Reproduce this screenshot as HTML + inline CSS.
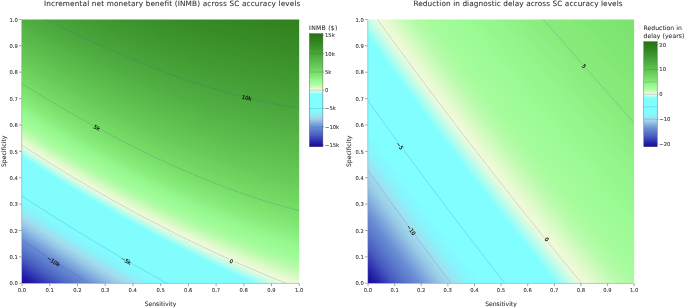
<!DOCTYPE html>
<html lang="en"><head><meta charset="utf-8"><title>INMB and diagnostic delay contour plots</title>
<style>html,body{margin:0;padding:0;background:#fff}body{width:685px;height:308px;overflow:hidden}svg{display:block}text{text-rendering:geometricPrecision;stroke:#333;stroke-width:0.08px}text.cl{stroke:#0a0a0a;stroke-width:0.16px}</style></head>
<body>
<svg width="685" height="308" viewBox="0 0 685 308" font-family="DejaVu Sans,Liberation Sans,sans-serif" fill="#333">
<g><rect x="18.6" y="16.3" width="284" height="270.1" fill="#16089b"/>
<path d="M25,284.1 28.4,286.4 302.5,286.4 302.5,16.3 18.6,16.3 18.6,279.8 23.3,283Z" fill="#170a9c"/>
<path d="M26,284.1 29.4,286.4 302.5,286.4 302.5,16.3 18.6,16.3 18.6,279.1 25.7,283.9Z" fill="#190c9d"/>
<path d="M27.1,284.1 30.4,286.4 302.5,286.4 302.5,16.3 18.6,16.3 18.6,278.4 25.7,283.2Z" fill="#1a0e9e"/>
<path d="M28.1,284.1 31.4,286.4 302.5,286.4 302.5,16.3 18.6,16.3 18.6,277.7 28,284.1Z" fill="#1b11a0"/>
<path d="M29.1,284.1 32.5,286.4 302.5,286.4 302.5,16.3 18.6,16.3 18.6,277 28,283.4Z" fill="#1d13a1"/>
<path d="M30.1,284.1 33.5,286.4 302.5,286.4 302.5,16.3 18.6,16.3 18.6,276.3 28,282.7Z" fill="#1e15a2"/>
<path d="M31.2,284.1 34.5,286.4 302.5,286.4 302.5,16.3 18.6,16.3 18.6,275.7 30.4,283.6Z" fill="#1f17a3"/>
<path d="M32.2,284.1 35.6,286.4 302.5,286.4 302.5,16.3 18.6,16.3 18.6,275 30.4,282.9Z" fill="#2119a4"/>
<path d="M33.2,284.1 36.6,286.4 302.5,286.4 302.5,16.3 18.6,16.3 18.6,274.3 32.8,283.8Z" fill="#221ba6"/>
<path d="M34.3,284.1 37.7,286.4 302.5,286.4 302.5,16.3 18.6,16.3 18.6,273.6 32.8,283.1Z" fill="#231ea7"/>
<path d="M35.3,284.1 38.7,286.4 302.5,286.4 302.5,16.3 18.6,16.3 18.6,272.9 35.1,284Z" fill="#2520a8"/>
<path d="M36.4,284.1 39.8,286.4 302.5,286.4 302.5,16.3 18.6,16.3 18.6,272.2 35.1,283.3Z" fill="#2622a9"/>
<path d="M37.4,284.1 40.8,286.4 302.5,286.4 302.5,16.3 18.6,16.3 18.6,271.5 35.1,282.6Z" fill="#2724aa"/>
<path d="M38.5,284.1 41.9,286.4 302.5,286.4 302.5,16.3 18.6,16.3 18.6,270.8 37.5,283.5Z" fill="#2926ab"/>
<path d="M39.5,284.1 42.9,286.4 302.5,286.4 302.5,16.3 18.6,16.3 18.6,270.1 37.5,282.8Z" fill="#2a28ad"/>
<path d="M40.6,284.1 44,286.4 302.5,286.4 302.5,16.3 18.6,16.3 18.6,269.4 39.9,283.6Z" fill="#2c2bae"/>
<path d="M41.6,284.1 45,286.4 302.5,286.4 302.5,16.3 18.6,16.3 18.6,268.7 39.9,282.9Z" fill="#2d2daf"/>
<path d="M42.4,284.1 45.8,286.4 302.5,286.4 302.5,16.3 18.6,16.3 18.6,268.2 42.2,284Z" fill="#2e2fb0"/>
<path d="M43.2,284.1 46.6,286.4 302.5,286.4 302.5,16.3 18.6,16.3 18.6,267.7 42.2,283.5Z" fill="#2f31b0"/>
<path d="M44,284.1 47.5,286.4 302.5,286.4 302.5,16.3 18.6,16.3 18.6,267.2 42.2,282.9Z" fill="#3033b1"/>
<path d="M44.8,284.1 48.3,286.4 302.5,286.4 302.5,16.3 18.6,16.3 18.6,266.6 44.6,284Z" fill="#3235b2"/>
<path d="M45.6,284.1 49.1,286.4 302.5,286.4 302.5,16.3 18.6,16.3 18.6,266.1 44.6,283.4Z" fill="#3337b3"/>
<path d="M46.4,284.1 49.9,286.4 302.5,286.4 302.5,16.3 18.6,16.3 18.6,265.6 44.6,282.9Z" fill="#3439b4"/>
<path d="M47.3,284.1 50.7,286.4 302.5,286.4 302.5,16.3 18.6,16.3 18.6,265.1 32.8,274.6 47,283.9Z" fill="#353bb4"/>
<path d="M48.1,284.1 51.5,286.4 302.5,286.4 302.5,16.3 18.6,16.3 18.6,264.5 32.8,274 47,283.4Z" fill="#363db5"/>
<path d="M48.9,284.1 52.3,286.4 302.5,286.4 302.5,16.3 18.6,16.3 18.6,264 32.8,273.5 47,282.9Z" fill="#383fb6"/>
<path d="M49.7,284.1 53.1,286.4 302.5,286.4 302.5,16.3 18.6,16.3 18.6,263.5 32.8,273 49.3,283.9Z" fill="#3941b7"/>
<path d="M50.5,284.1 54,286.4 302.5,286.4 302.5,16.3 18.6,16.3 18.6,262.9 33.4,272.9 49.3,283.3Z" fill="#3a44b8"/>
<path d="M51.3,284.1 54.8,286.4 302.5,286.4 302.5,16.3 18.6,16.3 18.6,262.4 34.2,272.9 49.3,282.8Z" fill="#3b46b8"/>
<path d="M52.1,284.1 55.6,286.4 302.5,286.4 302.5,16.3 18.6,16.3 18.6,261.9 35.1,272.9 51.7,283.8Z" fill="#3c48b9"/>
<path d="M53,284.1 56.4,286.4 302.5,286.4 302.5,16.3 18.6,16.3 18.6,261.4 35.1,272.4 51.7,283.3Z" fill="#3e4aba"/>
<path d="M53.8,284.1 57.3,286.4 302.5,286.4 302.5,16.3 18.6,16.3 18.6,260.8 35.1,271.9 51.7,282.7Z" fill="#3f4cbb"/>
<path d="M54.6,284.1 58.1,286.4 302.5,286.4 302.5,16.3 18.6,16.3 18.6,260.3 37.5,272.9 54.1,283.8Z" fill="#404ebc"/>
<path d="M55.4,284.1 58.9,286.4 302.5,286.4 302.5,16.3 18.6,16.3 18.6,259.8 35.1,270.8 54.1,283.2Z" fill="#4150bc"/>
<path d="M56.3,284.1 59.7,286.4 302.5,286.4 302.5,16.3 18.6,16.3 18.6,259.2 35.7,270.6 54.1,282.7Z" fill="#4252bd"/>
<path d="M57.1,284.1 60.6,286.4 302.5,286.4 302.5,16.3 18.6,16.3 18.6,258.7 37.5,271.3 56.4,283.7Z" fill="#4354be"/>
<path d="M57.9,284.1 61.4,286.4 302.5,286.4 302.5,16.3 18.6,16.3 18.6,258.2 37.5,270.7 56.4,283.1Z" fill="#4556bf"/>
<path d="M58.8,284.1 62.3,286.4 302.5,286.4 302.5,16.3 18.6,16.3 18.6,257.6 37.5,270.2 56.4,282.6Z" fill="#4658c0"/>
<path d="M59.6,284.1 63.1,286.4 302.5,286.4 302.5,16.3 18.6,16.3 18.6,257.1 38.9,270.6 58.8,283.6Z" fill="#475ac0"/>
<path d="M60.6,284.1 64,286.4 302.5,286.4 302.5,16.3 18.6,16.3 18.6,256.5 39.8,270.6 58.8,283Z" fill="#485cc1"/>
<path d="M61.7,284.1 65.2,286.4 302.5,286.4 302.5,16.3 18.6,16.3 18.6,255.8 37.5,268.4 61.2,283.8Z" fill="#4a5fc2"/>
<path d="M62.8,284.1 66.3,286.4 302.5,286.4 302.5,16.3 18.6,16.3 18.6,255.1 39.9,269.2 61.2,283.1Z" fill="#4b61c3"/>
<path d="M63.9,284.1 67.4,286.4 302.5,286.4 302.5,16.3 18.6,16.3 18.6,254.3 39.9,268.5 63.5,283.9Z" fill="#4c63c4"/>
<path d="M65.1,284.1 68.6,286.4 302.5,286.4 302.5,16.3 18.6,16.3 18.6,253.6 39.9,267.7 63.5,283.1Z" fill="#4e65c4"/>
<path d="M66.2,284.1 69.7,286.4 302.5,286.4 302.5,16.3 18.6,16.3 18.6,252.9 42.2,268.6 65.9,283.9Z" fill="#4f67c5"/>
<path d="M67.4,284.1 70.9,286.4 302.5,286.4 302.5,16.3 18.6,16.3 18.6,252.2 42.2,267.8 65.9,283.2Z" fill="#5069c6"/>
<path d="M68.5,284.1 72,286.4 302.5,286.4 302.5,16.3 18.6,16.3 18.6,251.4 30.4,259.3 44.2,268.4 68.3,284Z" fill="#526bc7"/>
<path d="M69.7,284.1 73.2,286.4 302.5,286.4 302.5,16.3 18.6,16.3 18.6,250.7 42.2,266.4 68.3,283.2Z" fill="#536dc8"/>
<path d="M70.8,284.1 74.3,286.4 302.5,286.4 302.5,16.3 18.6,16.3 18.6,250 42.9,266.1 56.4,274.9 70.6,284Z" fill="#546fc8"/>
<path d="M72,284.1 75.5,286.4 302.5,286.4 302.5,16.3 18.6,16.3 18.6,249.3 30.4,257.1 44.6,266.5 70.6,283.3Z" fill="#5671c9"/>
<path d="M73.1,284.1 76.7,286.4 302.5,286.4 302.5,16.3 18.6,16.3 18.6,248.5 31.5,257.1 44.6,265.7 58.8,274.9 73,284Z" fill="#5773ca"/>
<path d="M74.3,284.1 77.8,286.4 302.5,286.4 302.5,16.3 18.6,16.3 18.6,247.8 32.6,257.1 44.6,265 58.8,274.2 73,283.3Z" fill="#5875cb"/>
<path d="M75.5,284.1 79,286.4 302.5,286.4 302.5,16.3 18.6,16.3 18.6,247.1 32.8,256.5 47,265.8 61.2,275 75.4,284Z" fill="#5977cc"/>
<path d="M76.8,284.1 80.3,286.4 302.5,286.4 302.5,16.3 18.6,16.3 18.6,246.3 31.5,254.9 45.2,263.9 59.1,272.9 75.4,283.2Z" fill="#5b79cc"/>
<path d="M78.1,284.1 81.7,286.4 302.5,286.4 302.5,16.3 18.6,16.3 18.6,245.4 32.8,254.8 47,264.1 61.2,273.3 77.7,283.9Z" fill="#5c7bcd"/>
<path d="M79.5,284.1 83.1,286.4 302.5,286.4 302.5,16.3 18.6,16.3 18.6,244.5 32.8,254 47,263.3 61.8,272.9 77.7,283Z" fill="#5e7ece"/>
<path d="M80.9,284.1 84.5,286.4 302.5,286.4 302.5,16.3 18.6,16.3 18.6,243.7 35.1,254.7 49.3,263.9 63.5,273.1 80.1,283.6Z" fill="#6080cf"/>
<path d="M82.3,284.1 85.9,286.4 302.5,286.4 302.5,16.3 18.6,16.3 18.6,242.8 32.8,252.2 47.1,261.6 63.5,272.2 80.1,282.7Z" fill="#6182d0"/>
<path d="M83.7,284.1 87.3,286.4 302.5,286.4 302.5,16.3 18.6,16.3 18.6,242 34.6,252.6 49.3,262.2 65.9,272.8 82.5,283.3Z" fill="#6384d0"/>
<path d="M85.1,284.1 88.7,286.4 302.5,286.4 302.5,16.3 18.6,16.3 18.6,241.1 32.8,250.5 49.8,261.6 67.3,272.9 84.8,283.9Z" fill="#6486d1"/>
<path d="M86.5,284.1 90.1,286.4 302.5,286.4 302.5,16.3 18.6,16.3 18.6,240.2 35.1,251.2 51.1,261.6 68.3,272.6 84.8,283Z" fill="#6688d2"/>
<path d="M88,284.1 91.6,286.4 302.5,286.4 302.5,16.3 18.6,16.3 18.6,239.3 35.1,250.3 51.7,261.1 70.1,272.9 87.2,283.6Z" fill="#678ad3"/>
<path d="M89.4,284.1 93,286.4 302.5,286.4 302.5,16.3 18.6,16.3 18.6,238.5 35.1,249.4 51.7,260.2 68.3,270.8 87.2,282.7Z" fill="#698dd4"/>
<path d="M90.6,284.1 94.2,286.4 302.5,286.4 302.5,16.3 18.6,16.3 18.6,237.7 35.1,248.7 51.7,259.5 70.6,271.6 89.6,283.5Z" fill="#6b8fd4"/>
<path d="M91.5,284.1 95.2,286.4 302.5,286.4 302.5,16.3 18.6,16.3 18.6,237.2 35.1,248.1 52.4,259.4 70.6,271 89.6,282.9Z" fill="#6c91d5"/>
<path d="M92.5,284.1 96.1,286.4 302.5,286.4 302.5,16.3 18.6,16.3 18.6,236.6 36,248.1 54.1,259.8 70.9,270.6 91.9,283.8Z" fill="#6e93d6"/>
<path d="M93.4,284.1 97,286.4 302.5,286.4 302.5,16.3 18.6,16.3 18.6,236 36.8,248.1 54.1,259.3 73,271.3 91.9,283.2Z" fill="#6f95d6"/>
<path d="M94.3,284.1 98,286.4 302.5,286.4 302.5,16.3 18.6,16.3 18.6,235.5 37.5,248 55.1,259.4 73,270.8 94.3,284.1Z" fill="#7197d7"/>
<path d="M95.3,284.1 98.9,286.4 302.5,286.4 302.5,16.3 18.6,16.3 18.6,234.9 35.1,245.9 56,259.4 73.7,270.6 94.3,283.5Z" fill="#7399d8"/>
<path d="M96.2,284.1 99.8,286.4 302.5,286.4 302.5,16.3 18.6,16.3 18.6,234.3 37.5,246.8 56.4,259.1 75.4,271.1 94.3,282.9Z" fill="#749bd9"/>
<path d="M97.1,284.1 100.8,286.4 302.5,286.4 302.5,16.3 18.6,16.3 18.6,233.8 37.5,246.3 56.4,258.5 75.4,270.5 96.7,283.8Z" fill="#769dd9"/>
<path d="M98.1,284.1 101.7,286.4 302.5,286.4 302.5,16.3 18.6,16.3 18.6,233.2 37.5,245.7 56.4,257.9 76.4,270.6 96.7,283.2Z" fill="#789fda"/>
<path d="M99,284.1 102.7,286.4 302.5,286.4 302.5,16.3 18.6,16.3 18.6,232.6 37.5,245.1 56.4,257.4 77.7,270.9 99,284.1Z" fill="#79a1db"/>
<path d="M100,284.1 103.7,286.4 302.5,286.4 302.5,16.3 18.6,16.3 18.6,232.1 37.5,244.5 56.9,257.1 77.7,270.3 99,283.5Z" fill="#7ba3dc"/>
<path d="M101,284.1 104.6,286.4 302.5,286.4 302.5,16.3 18.6,16.3 18.6,231.5 37.5,244 57.8,257.1 77.7,269.7 99,282.9Z" fill="#7ca5dc"/>
<path d="M101.9,284.1 105.6,286.4 302.5,286.4 302.5,16.3 18.6,16.3 18.6,230.9 37.8,243.6 58.8,257.1 80.1,270.6 101.4,283.8Z" fill="#7ea7dd"/>
<path d="M102.9,284.1 106.5,286.4 302.5,286.4 302.5,16.3 18.6,16.3 18.6,230.3 38.7,243.6 58.8,256.6 80.1,270 101.4,283.2Z" fill="#80a9de"/>
<path d="M103.8,284.1 107.5,286.4 302.5,286.4 302.5,16.3 18.6,16.3 18.6,229.8 39.9,243.8 60.6,257.1 82.5,270.9 103.8,284.1Z" fill="#81acde"/>
<path d="M104.8,284.1 108.5,286.4 302.5,286.4 302.5,16.3 18.6,16.3 18.6,229.2 39.9,243.2 61.2,256.9 82.5,270.3 103.8,283.5Z" fill="#83aedf"/>
<path d="M105.8,284.1 109.5,286.4 302.5,286.4 302.5,16.3 18.6,16.3 18.6,228.6 37.9,241.4 58.8,254.8 80.1,268.3 103.8,282.9Z" fill="#85b0e0"/>
<path d="M106.7,284.1 110.4,286.4 302.5,286.4 302.5,16.3 18.6,16.3 18.6,228 39.9,242 61.2,255.7 84.8,270.6 106.1,283.7Z" fill="#87b2e0"/>
<path d="M107.7,284.1 111.4,286.4 302.5,286.4 302.5,16.3 18.6,16.3 18.6,227.5 39.9,241.5 61.2,255.2 82.5,268.6 106.1,283.1Z" fill="#88b4e1"/>
<path d="M108.7,284.1 112.4,286.4 302.5,286.4 302.5,16.3 18.6,16.3 18.6,226.9 39.9,240.9 61.2,254.6 83.1,268.4 108.5,284Z" fill="#8ab7e1"/>
<path d="M109.7,284.1 113.4,286.4 302.5,286.4 302.5,16.3 18.6,16.3 18.6,226.3 39.9,240.3 62.5,254.9 84.8,268.8 108.5,283.4Z" fill="#8cb9e2"/>
<path d="M110.7,284.1 114.4,286.4 302.5,286.4 302.5,16.3 18.6,16.3 18.6,225.7 30.4,233.5 42.2,241.3 63.5,254.9 84.8,268.3 108.5,282.8Z" fill="#8ebbe3"/>
<path d="M111.7,284.1 115.4,286.4 302.5,286.4 302.5,16.3 18.6,16.3 18.6,225.1 39.9,239.1 63.5,254.3 87.2,269.1 110.9,283.6Z" fill="#8fbde3"/>
<path d="M112.7,284.1 116.4,286.4 302.5,286.4 302.5,16.3 18.6,16.3 18.6,224.5 39.9,238.6 61.8,252.6 73,259.7 86.9,268.4 110.9,283Z" fill="#91bfe4"/>
<path d="M113.7,284.1 117.4,286.4 302.5,286.4 302.5,16.3 18.6,16.3 18.6,224 30.4,231.8 41.6,239.1 63.5,253.1 87.2,267.9 113.2,283.9Z" fill="#93c2e4"/>
<path d="M114.7,284.1 118.4,286.4 302.5,286.4 302.5,16.3 18.6,16.3 18.6,223.4 30.4,231.2 42.2,238.9 63.5,252.5 77.7,261.5 88.8,268.4 113.2,283.2Z" fill="#95c4e5"/>
<path d="M115.7,284.1 119.4,286.4 302.5,286.4 302.5,16.3 18.6,16.3 18.6,222.8 40,236.9 53.9,245.9 64.6,252.6 75.4,259.4 89.6,268.2 115.6,284.1Z" fill="#96c6e5"/>
<path d="M116.7,284.1 120.4,286.4 302.5,286.4 302.5,16.3 18.6,16.3 18.6,222.2 30.4,230 42.2,237.7 54.1,245.3 65.9,252.9 89.6,267.6 115.6,283.5Z" fill="#98c8e6"/>
<path d="M117.9,284.1 121.7,286.4 302.5,286.4 302.5,16.3 18.6,16.3 18.6,221.5 30.4,229.3 42.2,237 54.1,244.6 65.9,252.1 77.7,259.6 91.9,268.3 115.6,282.7Z" fill="#99cae7"/>
<path d="M119.1,284.1 122.9,286.4 302.5,286.4 302.5,16.3 18.6,16.3 18.6,220.8 32.7,230.1 43.1,236.9 54.1,243.9 67.8,252.6 91.9,267.6 118,283.4Z" fill="#9acce8"/>
<path d="M120.4,284.1 124.2,286.4 302.5,286.4 302.5,16.3 18.6,16.3 18.6,220.1 30.4,227.9 44.2,236.9 56.4,244.7 68.3,252.2 80.1,259.6 94.3,268.3 120.3,284.1Z" fill="#9bcee8"/>
<path d="M121.6,284.1 125.4,286.4 302.5,286.4 302.5,16.3 18.6,16.3 18.6,219.3 30.4,227.1 42.2,234.8 54.1,242.4 66.5,250.4 77.7,257.4 91.9,266.1 106.1,274.8 120.3,283.3Z" fill="#9cd1e9"/>
<path d="M122.9,284.1 126.7,286.4 302.5,286.4 302.5,16.3 18.6,16.3 18.6,218.6 30.4,226.4 43,234.6 56.4,243.2 68.3,250.7 82.5,259.6 96.7,268.3 122.7,284Z" fill="#9dd3ea"/>
<path d="M124.2,284.1 128,286.4 302.5,286.4 302.5,16.3 18.6,16.3 18.6,217.9 30.4,225.7 44.1,234.6 56.4,242.5 68.3,250 80.1,257.4 94.3,266.1 108.5,274.7 122.7,283.2Z" fill="#9ed5eb"/>
<path d="M125.4,284.1 129.2,286.4 302.5,286.4 302.5,16.3 18.6,16.3 18.6,217.2 31.4,225.6 44.6,234.2 56.4,241.8 70,250.4 84.5,259.4 96.7,266.8 110.9,275.4 125.1,283.9Z" fill="#9fd7eb"/>
<path d="M126.7,284.1 130.5,286.4 302.5,286.4 302.5,16.3 18.6,16.3 18.6,216.4 32.5,225.6 44.6,233.5 56.9,241.4 70.6,250 82.5,257.3 96.7,266.1 110.9,274.6 125.1,283.1Z" fill="#a0d9ec"/>
<path d="M128,284.1 131.8,286.4 302.5,286.4 302.5,16.3 18.6,16.3 18.6,215.7 30.4,223.5 44.6,232.7 58.1,241.4 70.6,249.2 84.8,258.1 99,266.7 113.2,275.3 127.4,283.8Z" fill="#a1dbed"/>
<path d="M129.3,284.1 133.1,286.4 302.5,286.4 302.5,16.3 18.6,16.3 18.6,215 31.3,223.3 44.6,232 58.8,241.1 70.6,248.5 84.8,257.3 99,266 113.2,274.6 127.4,283Z" fill="#a2ddee"/>
<path d="M130.7,284.1 134.5,286.4 302.5,286.4 302.5,16.3 18.6,16.3 18.6,214.2 32.5,223.3 44.6,231.2 57,239.1 71.3,248.1 85.8,257.1 100.6,266.1 115.6,275.2 129.8,283.6Z" fill="#a1dfef"/>
<path d="M132.1,284.1 136,286.4 302.5,286.4 302.5,16.3 18.6,16.3 18.6,213.4 30.4,221.2 44.6,230.4 58.8,239.4 72.6,248.1 87.2,257.1 101.4,265.8 115.6,274.3 129.8,282.7Z" fill="#9fe1f0"/>
<path d="M133.5,284.1 137.4,286.4 302.5,286.4 302.5,16.3 18.6,16.3 18.6,212.6 31.5,221.1 45.4,230.1 58.8,238.6 73,247.6 88.5,257.1 103.3,266.1 118,274.9 132.2,283.3Z" fill="#9ce3f1"/>
<path d="M135,284.1 138.8,286.4 302.5,286.4 302.5,16.3 18.6,16.3 18.6,211.8 32.8,221.1 47,230.3 61.2,239.3 75.2,248.1 89.6,257 103.8,265.6 119.7,275.1 134.5,283.8Z" fill="#9ae5f2"/>
<path d="M136.4,284.1 140.3,286.4 302.5,286.4 302.5,16.3 18.6,16.3 18.6,211 30.6,218.8 44.6,228 58.8,237 73,245.9 87.2,254.7 102.3,263.9 118,273.2 134.5,283Z" fill="#98e6f3"/>
<path d="M137.9,284.1 141.7,286.4 302.5,286.4 302.5,16.3 18.6,16.3 18.6,210.1 32.8,219.5 47,228.7 61.2,237.7 75.4,246.6 89.6,255.3 103.8,263.9 120.3,273.8 136.9,283.5Z" fill="#96e8f4"/>
<path d="M139.3,284.1 143.2,286.4 302.5,286.4 302.5,16.3 18.6,16.3 18.6,209.3 32.8,218.7 47,227.9 61.2,236.9 75.5,245.9 90.2,254.9 106.1,264.5 120.3,273 139.3,284.1Z" fill="#94eaf5"/>
<path d="M140.8,284.1 144.7,286.4 302.5,286.4 302.5,16.3 18.6,16.3 18.6,208.5 32.8,217.9 47,227 62.4,236.9 76.9,245.9 91.9,255.1 106.1,263.7 122.7,273.5 139.3,283.2Z" fill="#92ecf7"/>
<path d="M142.3,284.1 146.2,286.4 302.5,286.4 302.5,16.3 18.6,16.3 18.6,207.7 35.1,218.6 49.3,227.7 63.5,236.7 77.7,245.6 92.9,254.9 108.5,264.3 123,272.9 141.6,283.7Z" fill="#8feef8"/>
<path d="M143.8,284.1 147.7,286.4 302.5,286.4 302.5,16.3 18.6,16.3 18.6,206.9 32.8,216.2 47.3,225.6 61.5,234.6 77.7,244.7 94.3,254.9 108.5,263.4 125.1,273.2 141.6,282.9Z" fill="#8df0f9"/>
<path d="M145.3,284.1 149.2,286.4 302.5,286.4 302.5,16.3 18.6,16.3 18.6,206.1 34.6,216.6 48.6,225.6 63.5,235.1 77.7,243.9 91.9,252.6 110.9,264 127.4,273.8 144,283.4Z" fill="#8bf2fa"/>
<path d="M146.8,284.1 150.7,286.4 302.5,286.4 302.5,16.3 18.6,16.3 18.6,205.3 32.8,214.6 49.3,225.3 64.1,234.6 80.1,244.5 96.7,254.6 112.1,263.9 127.4,272.9 146.4,283.9Z" fill="#89f3fb"/>
<path d="M148.4,284.1 152.3,286.4 302.5,286.4 302.5,16.3 18.6,16.3 18.6,204.4 33.8,214.3 49.3,224.4 65.5,234.6 80.1,243.6 96.7,253.7 113.2,263.6 129.8,273.4 146.4,282.9Z" fill="#87f5fc"/>
<path d="M152.1,284.1 156,286.4 302.5,286.4 302.5,16.3 18.6,16.3 18.6,202.4 33.4,212.1 50.9,223.3 65.9,232.8 82.5,243.1 99,253.1 115.6,263 132.2,272.7 151.1,283.5Z" fill="#85f7fd"/>
<path d="M155.8,284.1 159.8,286.4 302.5,286.4 302.5,16.3 18.6,16.3 18.6,200.4 33,209.8 50.5,221.1 68.3,232.3 83,241.4 101.4,252.5 118,262.3 136.1,272.9 153.5,282.8Z" fill="#84f9fd"/>
<path d="M159.6,284.1 163.6,286.4 302.5,286.4 302.5,16.3 18.6,16.3 18.6,198.3 36.1,209.8 53.7,221.1 68.3,230.2 86.4,241.4 101.4,250.4 120.3,261.6 139.3,272.6 158.2,283.3Z" fill="#83fbfe"/>
<path d="M163.5,284.1 167.5,286.4 302.5,286.4 302.5,16.3 18.6,16.3 18.6,196.3 35.8,207.6 54.1,219.3 71.4,230.1 89.6,241.2 108.5,252.6 125.1,262.3 144,273.1 162.9,283.8Z" fill="#81fdfe"/>
<path d="M255.8,284.1 260.9,286.4 302.5,286.4 302.5,16.3 18.6,16.3 18.6,154.3 34.8,164.8 49,173.8 63.5,182.8 77.7,191.5 91.9,199.9 106.1,208.1 120.3,216.2 134.5,224 148.7,231.7 162.9,239.2 179.5,247.8 193.7,254.9 207.9,261.9 224.4,269.8 241,277.4 255.2,283.8Z" fill="#83fffe"/>
<path d="M256.4,284.1 261.5,286.4 302.5,286.4 302.5,16.3 18.6,16.3 18.6,154.1 32.8,163.3 47,172.3 61.2,181.2 75.4,189.8 90.1,198.6 105.6,207.6 120.3,215.9 134.5,223.8 148.7,231.5 162.9,239 177.1,246.3 193.7,254.6 207.9,261.6 224.4,269.5 241,277.2 255.2,283.6Z" fill="#86fffd"/>
<path d="M257.1,284.1 262.2,286.4 302.5,286.4 302.5,16.3 18.6,16.3 18.6,153.9 32.8,163.1 47,172.1 61.2,180.9 75.4,189.6 90.6,198.6 106.1,207.6 120.3,215.7 134.5,223.5 150.8,232.3 163.6,239.1 177.1,246.1 193.7,254.4 207.9,261.3 224.4,269.2 241,276.9 255.2,283.3Z" fill="#88fffc"/>
<path d="M257.7,284.1 262.8,286.4 302.5,286.4 302.5,16.3 18.6,16.3 18.6,153.6 32.8,162.8 47,171.8 61.2,180.7 75.8,189.6 91,198.6 106.1,207.4 120.3,215.4 134.6,223.3 151.1,232.2 165.3,239.7 181.8,248.2 196,255.3 212.6,263.3 226.8,270.1 243.4,277.7 257.6,284Z" fill="#8bfffc"/>
<path d="M258.4,284.1 263.5,286.4 302.5,286.4 302.5,16.3 18.6,16.3 18.6,153.4 32.8,162.6 47,171.6 61.2,180.4 76.2,189.6 91.4,198.6 106.1,207.1 120.3,215.2 135.1,223.3 151.1,232 165.3,239.4 181.8,247.9 196,255 210.2,261.9 226.8,269.8 243.4,277.4 257.6,283.8Z" fill="#8dfefb"/>
<path d="M259,284.1 264.2,286.4 302.5,286.4 302.5,16.3 18.6,16.3 18.6,153.1 32.8,162.3 47.3,171.6 61.8,180.6 77.7,190.2 91.9,198.7 107.4,207.6 122.7,216.2 136.9,224.1 151.1,231.7 165.3,239.2 181.8,247.7 196,254.8 210.2,261.7 226.8,269.5 243.4,277.1 257.6,283.5Z" fill="#8ffefa"/>
<path d="M259.7,284.1 264.8,286.4 302.5,286.4 302.5,16.3 18.6,16.3 18.6,152.9 32.8,162.1 47.7,171.6 62.2,180.6 77.7,190 92.2,198.6 107.8,207.6 122.7,216 136.9,223.8 151.1,231.5 165.3,238.9 179.5,246.2 196,254.5 210.2,261.4 226.8,269.2 243.4,276.9 257.6,283.2Z" fill="#92fef9"/>
<path d="M260.3,284.1 265.5,286.4 302.5,286.4 302.5,16.3 18.6,16.3 18.6,152.7 33.9,162.6 48.1,171.6 62.6,180.6 77.7,189.7 92.7,198.6 108.2,207.6 122.7,215.7 136.9,223.6 153.2,232.3 167.6,239.9 183.7,248.1 198.4,255.4 215,263.4 229.2,270.1 245.7,277.6 259.9,283.9Z" fill="#94fef8"/>
<path d="M261,284.1 266.2,286.4 302.5,286.4 302.5,16.3 18.6,16.3 18.6,152.4 34.3,162.6 48.5,171.6 63.5,180.9 77.7,189.5 93.1,198.6 108.5,207.5 122.7,215.5 136.9,223.3 153.5,232.2 167.6,239.6 184.2,248.1 198.4,255.1 212.6,262 229.2,269.8 245.7,277.4 259.9,283.7Z" fill="#97fef8"/>
<path d="M261.6,284.1 266.8,286.4 302.5,286.4 302.5,16.3 18.6,16.3 18.6,152.2 34.7,162.6 48.9,171.6 63.5,180.6 77.7,189.3 93.5,198.6 108.5,207.2 122.7,215.2 136.9,223.1 153.5,232 167.6,239.4 184.2,247.8 198.4,254.9 212.6,261.7 229.2,269.5 245.7,277.1 259.9,283.4Z" fill="#99fef7"/>
<path d="M262.3,284.1 267.5,286.4 302.5,286.4 302.5,16.3 18.6,16.3 18.6,151.9 35,162.6 49.3,171.6 63.5,180.4 77.7,189 93.9,198.6 108.5,207 122.7,215 137.9,223.3 153.5,231.7 167.6,239.1 181.8,246.4 198.4,254.6 212.6,261.5 229.2,269.2 245.7,276.8 259.9,283.1Z" fill="#9bfef6"/>
<path d="M263,284.1 268.2,286.4 302.5,286.4 302.5,16.3 18.6,16.3 18.6,151.7 35.1,162.4 49.3,171.4 64.2,180.6 79.1,189.6 94.3,198.6 110,207.6 125.1,216.1 139.3,223.8 155.2,232.3 170,240.1 185.8,248.1 200.8,255.5 217.3,263.4 231.5,270.1 248.1,277.6 262.3,283.8Z" fill="#9efef5"/>
<path d="M263.6,284.1 268.9,286.4 302.5,286.4 302.5,16.3 18.6,16.3 18.6,151.4 32.8,160.6 49.3,171.1 64.6,180.6 79.5,189.6 94.3,198.3 110.4,207.6 125.1,215.8 139.3,223.6 155.6,232.3 170,239.8 186.6,248.2 200.8,255.2 215,262 231.5,269.8 248.1,277.3 262.3,283.5Z" fill="#a0fef5"/>
<path d="M264.3,284.1 269.5,286.4 302.5,286.4 302.5,16.3 18.6,16.3 18.6,151.2 32.8,160.4 49.3,170.9 65,180.6 79.9,189.6 95.2,198.6 110.9,207.6 125.1,215.6 139.3,223.3 155.8,232.2 170,239.6 186.6,248 200.8,255 215,261.8 231.5,269.5 248.1,277 262.3,283.2Z" fill="#a3fdf4"/>
<path d="M265,284.1 270.2,286.4 302.5,286.4 302.5,16.3 18.6,16.3 18.6,151 33.1,160.3 49.3,170.6 65.4,180.6 80.1,189.4 95.6,198.6 110.9,207.3 125.1,215.3 139.3,223.1 155.8,231.9 170,239.3 186.6,247.7 200.8,254.7 217.3,262.6 233.9,270.3 250.5,277.8 264.7,284Z" fill="#a5fdf3"/>
<path d="M265.6,284.1 270.9,286.4 302.5,286.4 302.5,16.3 18.6,16.3 18.6,150.7 33.4,160.3 49.3,170.4 65.8,180.6 80.1,189.2 96.1,198.6 110.9,207.1 125.1,215 140.2,223.3 155.8,231.7 170,239 186.6,247.4 201.7,254.9 217.3,262.3 233.9,270 250.5,277.5 264.7,283.7Z" fill="#a7fdf2"/>
<path d="M266.3,284.1 271.6,286.4 302.5,286.4 302.5,16.3 18.6,16.3 18.6,150.5 33.8,160.3 49.3,170.1 65.9,180.4 80.1,188.9 96.5,198.6 110.9,206.8 125.1,214.8 140.7,223.3 155.8,231.4 170.6,239.1 186.6,247.2 203.1,255.3 217.3,262.1 233.9,269.8 250.5,277.2 264.7,283.4Z" fill="#aafdf1"/>
<path d="M267,284.1 272.3,286.4 302.5,286.4 302.5,16.3 18.6,16.3 18.6,150.2 34.2,160.3 49.3,169.9 63.5,178.7 80.1,188.7 94.3,197.1 108.7,205.3 125.1,214.5 141.2,223.3 158.1,232.3 172.4,239.7 188.9,248.1 203.1,255 217.3,261.8 233.9,269.5 250.5,276.9 264.7,283.1Z" fill="#acfdf1"/>
<path d="M267.7,284.1 273,286.4 302.5,286.4 302.5,16.3 18.6,16.3 18.6,150 34.6,160.3 49.3,169.6 63.5,178.4 80.1,188.4 96.7,198.2 110.9,206.3 125.1,214.3 141.6,223.3 158.2,232.1 172.4,239.5 188.9,247.8 203.1,254.8 219.7,262.6 236.3,270.3 252.8,277.7 267,283.8Z" fill="#aefdf0"/>
<path d="M268.4,284.1 273.7,286.4 302.5,286.4 302.5,16.3 18.6,16.3 18.6,149.7 35,160.3 49.3,169.4 63.8,178.3 80.1,188.2 94.3,196.6 110.9,206.1 125.6,214.3 141.6,223.1 158.2,231.9 172.4,239.2 186.6,246.4 203.1,254.5 219.7,262.4 236.3,270 252.8,277.4 267,283.5Z" fill="#b1fdef"/>
<path d="M269.1,284.1 274.4,286.4 302.5,286.4 302.5,16.3 18.6,16.3 18.6,149.5 35.1,160.2 49.3,169.2 64.2,178.3 80.1,187.9 94.3,196.3 110.9,205.8 126.1,214.3 141.6,222.8 155.8,230.4 172.4,239 188.9,247.3 204.5,254.9 219.7,262.1 236.3,269.7 252.8,277.1 267,283.2Z" fill="#b3fdee"/>
<path d="M269.8,284.1 275.1,286.4 302.5,286.4 302.5,16.3 18.6,16.3 18.6,149.2 35.1,159.9 49.3,168.9 64.6,178.3 80.1,187.7 94.8,196.3 110.9,205.6 127.4,214.8 143.1,223.3 160.1,232.3 174.7,239.9 191.3,248.2 205.5,255.1 222.1,262.9 238.6,270.5 255.2,277.9 269.4,284Z" fill="#b6fdee"/>
<path d="M270.5,284.1 275.8,286.4 302.5,286.4 302.5,16.3 18.6,16.3 18.6,149 32.8,158.2 49.3,168.7 65,178.3 80.1,187.4 95.2,196.3 110.9,205.3 127.4,214.6 143.5,223.3 160.5,232.3 174.7,239.6 191.3,247.9 205.5,254.8 222.1,262.6 238.6,270.2 255.2,277.6 269.4,283.7Z" fill="#b8fded"/>
<path d="M271.2,284.1 276.5,286.4 302.5,286.4 302.5,16.3 18.6,16.3 18.6,148.8 33,158.1 49.3,168.4 65.4,178.3 80.3,187.3 95.6,196.3 111.3,205.3 127.4,214.3 144,223.3 160.6,232.1 174.7,239.4 191.3,247.6 205.5,254.5 219.7,261.3 236.3,268.9 252.8,276.3 269.4,283.4Z" fill="#bafcec"/>
<path d="M271.9,284.1 277.3,286.4 302.5,286.4 302.5,16.3 18.6,16.3 18.6,148.5 35.1,159.2 51.2,169.3 65.9,178.4 80.8,187.3 96.7,196.7 111.8,205.3 127.4,214.1 144,223.1 158.2,230.6 174.7,239.1 191.3,247.4 207.9,255.4 224.4,263.2 241,270.7 255.2,277 271.8,284.1Z" fill="#bdfceb"/>
<path d="M272.6,284.1 278,286.4 302.5,286.4 302.5,16.3 18.6,16.3 18.6,148.3 35.1,159 51.6,169.3 65.9,178.1 81.2,187.3 96.7,196.4 112.2,205.3 127.4,213.8 144,222.8 158.2,230.3 175.3,239.1 191.3,247.1 207.9,255.1 224.4,262.9 241,270.4 257.6,277.7 271.8,283.8Z" fill="#bffcea"/>
<path d="M273.3,284.1 278.7,286.4 302.5,286.4 302.5,16.3 18.6,16.3 18.6,148 35.1,158.7 51.7,169.1 66.6,178.3 81.6,187.3 96.7,196.2 113.2,205.7 128.8,214.3 144,222.6 158.3,230.1 175.8,239.1 193.7,248 207.9,254.9 224.4,262.6 241,270.2 257.6,277.4 271.8,283.5Z" fill="#c2fcea"/>
<path d="M274,284.1 279.4,286.4 302.5,286.4 302.5,16.3 18.6,16.3 18.6,147.8 34.5,158.1 49.3,167.4 65.9,177.6 82,187.3 97.4,196.3 113.2,205.4 129.3,214.3 144,222.3 160.6,231 176.3,239.1 191.3,246.6 207.9,254.6 222.1,261.3 238.6,268.8 255.2,276.1 271.8,283.2Z" fill="#c4fce9"/>
<path d="M274.7,284.1 280.2,286.4 302.5,286.4 302.5,16.3 18.6,16.3 18.6,147.5 34.9,158.1 49.3,167.2 65.9,177.4 82.5,187.3 97.8,196.3 113.6,205.3 129.8,214.4 146.4,223.3 162.9,232 177.1,239.2 193.7,247.5 210.2,255.4 226.8,263.2 243.4,270.7 259.9,277.9 274.1,283.9Z" fill="#c6fce8"/>
<path d="M275.4,284.1 280.9,286.4 302.5,286.4 302.5,16.3 18.6,16.3 18.6,147.3 35.1,158 49.6,167.1 65.9,177.1 82.5,187.1 98.2,196.3 114,205.3 129.8,214.1 146.4,223 160.6,230.5 177.1,239 193.7,247.2 210.2,255.2 226.8,262.9 243.4,270.4 259.9,277.6 274.1,283.6Z" fill="#c9fce7"/>
<path d="M276.1,284.1 281.6,286.4 302.5,286.4 302.5,16.3 18.6,16.3 18.6,147 35.1,157.7 50,167.1 68.3,178.3 82.5,186.8 99,196.5 114.5,205.3 129.8,213.8 146.4,222.8 160.6,230.2 177.9,239.1 196,248.1 210.2,254.9 226.8,262.6 243.4,270.1 259.9,277.3 274.1,283.3Z" fill="#cbfce7"/>
<path d="M276.9,284.1 282.4,286.4 302.5,286.4 302.5,16.3 18.6,16.3 18.6,146.8 35.1,157.5 50.4,167.1 65.9,176.6 82.5,186.6 99,196.3 114.9,205.3 131.2,214.3 146.4,222.5 160.8,230.1 178.4,239.1 193.7,246.7 210.2,254.6 226.8,262.3 243.4,269.8 259.9,277 276.5,284Z" fill="#cefce6"/>
<path d="M277.6,284.1 283.1,286.4 302.5,286.4 302.5,16.3 18.6,16.3 18.6,146.5 33,155.8 50.8,167.1 65.9,176.4 82.5,186.3 99,196 115.4,205.3 131.7,214.3 146.4,222.3 162.9,230.9 179.5,239.4 196,247.5 211.3,254.9 229.2,263.1 245.7,270.6 262.3,277.7 276.5,283.7Z" fill="#d0fbe5"/>
<path d="M278.3,284.1 283.9,286.4 302.5,286.4 302.5,16.3 18.6,16.3 18.6,146.3 35.1,157 51.2,167.1 65.9,176.1 82.5,186.1 99,195.8 115.6,205.2 132.1,214.3 146.4,222 162.9,230.7 179.5,239.1 196,247.3 212.6,255.2 229.2,262.9 245.7,270.3 262.3,277.4 276.5,283.4Z" fill="#d2fbe4"/>
<path d="M279.1,284.1 284.6,286.4 302.5,286.4 302.5,16.3 18.6,16.3 18.6,146 35.1,156.7 51.7,167.2 68.3,177.3 84.8,187.2 100.4,196.3 116.3,205.3 132.2,214.1 148.7,223 162.9,230.4 180,239.1 196,247 212.6,254.9 229.2,262.6 245.7,270 262.3,277.1 278.9,284Z" fill="#d5fbe4"/>
<path d="M279.8,284.1 285.4,286.4 302.5,286.4 302.5,16.3 18.6,16.3 18.6,145.8 35.1,156.5 51.7,166.9 68.3,177.1 84.8,187 101.4,196.6 116.8,205.3 132.2,213.8 148.7,222.7 162.9,230.2 180.5,239.1 196,246.7 212.6,254.6 229.2,262.3 245.7,269.7 262.3,276.8 278.9,283.7Z" fill="#d7fbe3"/>
<path d="M280.6,284.1 286.1,286.4 302.5,286.4 302.5,16.3 18.6,16.3 18.6,145.5 35.1,156.2 51.7,166.7 67,176.1 82.5,185.3 97.4,194.1 113.2,203.1 129.8,212.3 146.4,221.2 162.9,229.9 179.5,238.3 196,246.5 212.6,254.4 229.2,262 245.7,269.4 262.3,276.5 278.9,283.4Z" fill="#dafbe2"/>
<path d="M281.3,284.1 286.9,286.4 302.5,286.4 302.5,16.3 18.6,16.3 18.6,145.3 35.1,156 51.7,166.4 68.3,176.6 84.8,186.5 101.4,196.1 118,205.5 134.5,214.6 150.9,223.3 167.6,232.1 181.8,239.2 198.4,247.3 215,255.2 231.5,262.8 248.1,270.2 264.7,277.3 281.2,284.1Z" fill="#dcfbe1"/>
<path d="M282.1,284.1 287.7,286.4 302.5,286.4 302.5,16.3 18.6,16.3 18.6,145.1 35.1,155.7 51.7,166.2 68.3,176.3 84.8,186.2 101.4,195.9 118,205.2 134.5,214.4 151.1,223.2 165.3,230.6 181.8,239 198.4,247.1 215,254.9 231.5,262.5 248.1,269.9 264.7,277 281.2,283.8Z" fill="#defbe0"/>
<path d="M282.8,284.1 288.5,286.4 302.5,286.4 302.5,16.3 18.6,16.3 18.6,144.8 35.1,155.5 50,164.8 68.3,176.1 83.3,185.1 99,194.3 115.6,203.7 132.2,212.8 148.7,221.7 165.3,230.3 181.8,238.7 198.4,246.8 215,254.6 231.5,262.2 248.1,269.6 264.7,276.7 281.2,283.5Z" fill="#e1fbe0"/>
<path d="M283.6,284.1 289.2,286.4 302.5,286.4 302.5,16.3 18.6,16.3 18.6,144.6 35.1,155.2 51.7,165.7 68.3,175.8 83.8,185.1 99,194 115.6,203.4 132.2,212.5 148.7,221.4 165.3,230.1 181.8,238.4 198.4,246.5 215,254.4 231.5,262 248.1,269.3 264.7,276.4 281.2,283.2Z" fill="#e3fbdf"/>
<path d="M284.3,284.1 290,286.4 302.5,286.4 302.5,16.3 18.6,16.3 18.6,144.3 35.1,155 51.7,165.4 68.3,175.6 84.2,185.1 99.6,194.1 115.6,203.1 132.2,212.3 148.7,221.2 165.9,230.1 183.8,239.1 200.8,247.4 217.3,255.2 233.9,262.7 250.5,270 267,277.1 283.6,283.8Z" fill="#e5fbde"/>
<path d="M285.1,284.1 290.8,286.4 302.5,286.4 302.5,16.3 18.6,16.3 18.6,144.1 35.1,154.7 51.7,165.1 68.3,175.3 84.8,185.2 100.1,194.1 115.9,203.1 132.2,212 149.1,221.1 166.4,230.1 184.2,239.1 200.8,247.1 217.3,254.9 233.9,262.5 250.5,269.7 267,276.8 283.6,283.5Z" fill="#e8fadd"/>
<path d="M285.9,284.1 291.6,286.4 302.5,286.4 302.5,16.3 18.6,16.3 18.6,143.8 35.1,154.5 51.7,164.9 68.3,175.1 84.8,185 101.4,194.6 118,204 134.5,213.1 151.1,221.9 167.6,230.5 184.2,238.8 200.8,246.8 217.3,254.6 233.9,262.2 250.5,269.4 267,276.5 283.6,283.2Z" fill="#eafadd"/>
<path d="M286.7,284.1 292.4,286.4 302.5,286.4 302.5,16.3 18.6,16.3 18.6,143.6 35.1,154.2 51.7,164.6 68.3,174.8 84.8,184.7 101.4,194.3 118,203.7 134.5,212.8 151.1,221.6 167.6,230.2 184.2,238.5 200.8,246.6 218.4,254.9 236.3,262.9 252.8,270.2 269.4,277.1 286,283.8Z" fill="#edfadc"/>
<path d="M287.4,284.1 293.2,286.4 302.5,286.4 302.5,16.3 18.6,16.3 18.6,143.3 35.1,154 51.7,164.4 68.3,174.6 84.8,184.4 101.4,194.1 118,203.4 134.5,212.5 151.1,221.4 167.6,229.9 186,239.1 203.1,247.4 219.7,255.2 236.3,262.7 252.8,269.9 269.4,276.8 286,283.5Z" fill="#effadb"/>
<path d="M288.2,284.1 294,286.4 302.5,286.4 302.5,16.3 18.6,16.3 18.6,143.1 35.1,153.7 51.7,164.1 68.3,174.3 84.8,184.2 101.4,193.8 118,203.2 134.5,212.3 151.1,221.1 168.5,230.1 186.6,239.1 203.1,247.1 219.7,254.9 236.3,262.4 252.8,269.6 269.4,276.5 286,283.2Z" fill="#f1fada"/>
<path d="M290.9,284.1 296.7,286.4 302.5,286.4 302.5,16.3 18.6,16.3 18.6,142.2 36.2,153.6 54.1,164.8 70.6,174.9 87.2,184.7 103.8,194.3 120.3,203.6 136.9,212.7 153.5,221.5 170,230 188.4,239.1 205.5,247.3 222.1,255 231.5,259.3 241,263.5 257.6,270.6 274.1,277.5 290.7,284Z" fill="#f0fad8"/>
<path d="M293,284.1 299,286.4 302.5,286.4 302.5,16.3 18.6,16.3 18.6,141.6 35.1,152.2 51.7,162.6 68.3,172.8 85.1,182.8 103.8,193.6 120.3,202.9 136.9,212 154.1,221.1 172.4,230.5 188.9,238.7 205.5,246.6 222.1,254.3 238.6,261.7 248.1,265.8 257.6,269.8 274.1,276.7 290.7,283.2Z" fill="#edfad7"/>
<path d="M295.2,284.1 301.2,286.4 302.5,286.4 302.5,16.3 18.6,16.3 18.6,140.9 35.1,151.5 52.7,162.6 70.6,173.5 87.2,183.4 105.8,194.1 121.9,203.1 139.3,212.5 155.8,221.3 173.1,230.1 191.3,239.1 207.9,247 224.4,254.6 241,262 250.5,266 259.9,270 276.5,276.8 293.1,283.3Z" fill="#ebfad5"/>
<path d="M297.5,284.1 302.5,286 302.5,16.3 18.6,16.3 18.6,140.2 35.9,151.3 53.8,162.6 70.6,172.8 87.5,182.8 106.1,193.6 122.7,202.8 139.3,211.8 156.9,221.1 174.7,230.2 191.3,238.3 207.9,246.2 226.8,254.9 236.3,259.1 245.7,263.2 262.3,270.2 278.9,276.9 295.4,283.3Z" fill="#e9fad3"/>
<path d="M299.7,284.1 302.5,285.1 302.5,16.3 18.6,16.3 18.6,139.5 36.9,151.3 54.1,162 70.6,172.1 88.7,182.8 96.7,187.5 108.2,194.1 124.4,203.1 141.6,212.4 158.2,221.1 176,230.1 193.7,238.8 212.6,247.7 229.2,255.2 238.6,259.4 248.1,263.5 264.7,270.4 281.2,277 297.8,283.4Z" fill="#e7fad2"/>
<path d="M302,284.1 302.5,284.3 302.5,16.3 18.6,16.3 18.6,138.9 37.5,151 54.1,161.4 70.8,171.6 89.6,182.7 106.1,192.2 125.1,202.7 142.4,212.1 160.6,221.6 177.5,230.1 196,239.1 205.5,243.6 215,248 231.5,255.5 241,259.6 250.5,263.7 267,270.6 283.6,277.1 300.2,283.4Z" fill="#e5fad0"/>
<path d="M298.3,281.9 302.5,283.4 302.5,16.3 18.6,16.3 18.6,138.2 35.5,149.1 53.5,160.3 70.6,170.8 87.2,180.6 106.1,191.5 122.7,200.7 139.5,209.8 158.2,219.6 174.7,228 192.8,236.9 210.2,245.1 226.8,252.6 243.4,259.9 252.8,263.9 262.3,267.8 271.8,271.6 281.2,275.4 297.8,281.7Z" fill="#e3facf"/>
<path d="M300.3,281.9 302.5,282.7 302.5,16.3 18.6,16.3 18.6,137.6 36.5,149.1 54.5,160.3 73,171.6 91.9,182.8 108.5,192.2 127.4,202.7 144,211.6 160.6,220.2 179.5,229.7 196,237.8 213.4,245.9 231.5,254 249.1,261.6 267,269 283.6,275.6 300.2,281.8Z" fill="#e1facd"/>
<path d="M302.1,281.9 302.5,282 302.5,16.3 18.6,16.3 18.6,137.1 37.3,149.1 54.1,159.6 70.6,169.7 89.6,180.9 108.5,191.7 125.1,200.9 141.7,209.8 160.6,219.7 177.1,228 186.6,232.6 196,237.2 205.5,241.7 215,246 231.5,253.5 241,257.6 250.5,261.6 267,268.4 283.6,275 300.2,281.2Z" fill="#dffacb"/>
<path d="M297.7,279.6 302.5,281.4 302.5,16.3 18.6,16.3 18.6,136.6 37.5,148.7 56.1,160.3 73,170.5 89.6,180.3 106.1,189.8 125.1,200.4 141.6,209.3 158.2,217.9 174.7,226.3 191.8,234.6 210.2,243.3 226.8,250.8 236.3,254.9 245.7,259 262.3,265.9 278.9,272.5 295.4,278.8Z" fill="#dcfac9"/>
<path d="M299.4,279.6 302.5,280.7 302.5,16.3 18.6,16.3 18.6,136.1 37.5,148.2 56.4,160 75.4,171.4 90.9,180.6 99,185.3 110.6,191.8 126.9,200.8 144,210 160.6,218.6 179,227.8 196,236.1 212.6,243.8 222.1,248.1 231.5,252.3 248.1,259.4 264.7,266.3 281.2,272.8 297.8,279Z" fill="#dafac7"/>
<path d="M301.2,279.6 302.5,280.1 302.5,16.3 18.6,16.3 18.6,135.5 36.2,146.8 54.2,158.1 73,169.5 91.8,180.6 110.9,191.4 127.4,200.6 144,209.5 160.6,218 170,222.8 179.5,227.5 196,235.5 213.4,243.6 231.5,251.7 249.4,259.4 267,266.6 283.6,273.1 300.2,279.2Z" fill="#d8fac6"/>
<path d="M296.8,277.4 302.5,279.4 302.5,16.3 18.6,16.3 18.6,135 37,146.8 54.1,157.5 73,169 89.6,178.8 108.5,189.6 124.7,198.6 141.6,207.7 158.2,216.3 176.7,225.6 193.7,233.8 210.2,241.6 219.7,245.9 229.2,250.1 245.7,257.2 262.3,264.1 278.9,270.6 295.4,276.9Z" fill="#d6fbc4"/>
<path d="M298.6,277.4 302.5,278.8 302.5,16.3 18.6,16.3 18.6,134.5 37.5,146.6 54.1,157 70.7,167.1 89.6,178.2 106.1,187.7 125.1,198.2 142.5,207.6 159.9,216.6 177.1,225.2 186.6,229.9 196,234.4 212.6,242.1 229.2,249.5 246.9,257.1 264.7,264.4 281.2,270.9 297.8,277.1Z" fill="#d3fbc2"/>
<path d="M300.4,277.4 302.5,278.1 302.5,16.3 18.6,16.3 18.6,134 37.5,146.1 56.4,157.9 75.3,169.3 90.7,178.3 108.5,188.5 126.7,198.6 144,207.8 160.6,216.4 179,225.6 196,233.8 212.6,241.5 222.1,245.8 231.5,250 248.1,257 264.7,263.8 281.2,270.3 290.7,273.8 300.2,277.3Z" fill="#d1fbc0"/>
<path d="M302.2,277.4 302.5,277.5 302.5,16.3 18.6,16.3 18.6,133.5 35.9,144.6 54.1,155.9 73,167.4 91.6,178.3 110.9,189.3 127.4,198.4 144,207.3 160.6,215.8 170,220.6 179.5,225.3 196,233.3 213.5,241.4 231.5,249.4 241,253.4 250.5,257.4 267,264.1 283.6,270.5 300.2,276.6Z" fill="#cffbbe"/>
<path d="M297.7,275.1 302.5,276.8 302.5,16.3 18.6,16.3 18.6,133 36.7,144.6 54.1,155.4 73,166.9 89.6,176.6 108.3,187.3 124.6,196.3 141.6,205.5 158.2,214.1 176.6,223.3 193.7,231.6 210.2,239.3 219.7,243.6 229.2,247.7 245.7,254.8 262.3,261.6 278.9,268.1 295.4,274.3Z" fill="#cdfbbc"/>
<path d="M299.6,275.1 302.5,276.2 302.5,16.3 18.6,16.3 18.6,132.4 37.5,144.6 54.1,154.9 70.6,164.9 89.6,176.1 108.5,186.9 125.1,196.1 142.4,205.3 160.6,214.7 177.8,223.3 196,232.1 205.5,236.5 215,240.9 231.5,248.2 248.1,255.2 264.7,262 281.2,268.4 297.8,274.5Z" fill="#cafbba"/>
<path d="M301.4,275.1 302.5,275.5 302.5,16.3 18.6,16.3 18.6,131.9 37.5,144 56.4,155.8 75.1,167.1 90.4,176.1 106.2,185.1 125.1,195.5 143.4,205.3 160.6,214.2 178.9,223.3 196,231.6 212.6,239.2 222.1,243.4 231.5,247.6 248.1,254.6 257.6,258.5 267,262.3 283.6,268.6 300.2,274.7Z" fill="#c8fbb9"/>
<path d="M296.9,272.9 302.5,274.8 302.5,16.3 18.6,16.3 18.6,131.4 35.6,142.3 54.1,153.8 70.6,163.9 87.5,173.8 103.8,183.2 122.7,193.7 140.2,203.1 158.2,212.4 175.5,221.1 193.7,229.9 203.1,234.3 212.6,238.6 228.9,245.9 245.7,253 262.3,259.8 278.9,266.2 295.4,272.3Z" fill="#c6fbb7"/>
<path d="M298.8,272.9 302.5,274.2 302.5,16.3 18.6,16.3 18.6,130.9 36.5,142.3 54.1,153.3 73,164.8 89.6,174.5 108.1,185.1 124.4,194.1 141.6,203.3 158.6,212.1 167.6,216.7 177.1,221.3 193.7,229.3 210.2,237 219.7,241.2 229.2,245.4 245.7,252.4 262.8,259.4 271.8,262.9 281.2,266.5 297.8,272.5Z" fill="#c4fbb5"/>
<path d="M300.6,272.9 302.5,273.5 302.5,16.3 18.6,16.3 18.6,130.4 37.3,142.3 54.1,152.8 70.6,162.8 89.6,174 108.5,184.8 125.1,193.9 142.3,203.1 160.6,212.5 177.8,221.1 196,229.8 205.5,234.2 215,238.5 231.5,245.8 248.1,252.8 264.7,259.5 281.2,265.8 290.7,269.3 300.2,272.7Z" fill="#c2fbb3"/>
<path d="M302.5,272.9 302.5,16.3 18.6,16.3 18.6,129.8 37.5,141.9 56.2,153.6 73,163.7 90.2,173.8 106.1,182.9 125.1,193.4 143.3,203.1 160.6,212 170,216.7 178.9,221.1 196,229.3 212.6,236.9 222.1,241.1 231.5,245.2 249.1,252.6 257.6,256 267,259.8 283.6,266.1 300.2,272Z" fill="#c0fbb1"/>
<path d="M298,270.6 302.5,272.2 302.5,16.3 18.6,16.3 18.6,129.3 37.5,141.4 56.4,153.2 75.4,164.6 91.2,173.8 99,178.3 110.9,185 127.4,194.1 144,202.9 160.6,211.4 177.1,219.6 194.2,227.8 203.1,232 212.6,236.3 229.2,243.6 245.7,250.6 262.3,257.3 278.9,263.7 288.3,267.2 297.8,270.6Z" fill="#bdfbaf"/>
<path d="M299.9,270.6 302.5,271.5 302.5,16.3 18.6,16.3 18.6,128.8 36.2,140.1 54.3,151.3 73,162.6 91.9,173.7 108.5,183.1 125.1,192.3 141.6,201.1 151.1,206 160.6,210.9 177.1,219.1 186.6,223.6 196,228.1 205.5,232.5 215,236.8 230.6,243.6 248.1,251 264.7,257.6 281.2,263.9 297.8,269.9Z" fill="#bbfbad"/>
<path d="M301.8,270.6 302.5,270.9 302.5,16.3 18.6,16.3 18.6,128.3 37.1,140.1 54.1,150.6 70.6,160.7 89.6,171.8 108.5,182.6 125.1,191.7 142.2,200.8 151.1,205.5 160.6,210.3 177.8,218.8 186.6,223.1 196,227.5 212.6,235.1 222.1,239.3 231.5,243.4 248.1,250.4 265,257.1 274.1,260.6 283.6,264.1 290.7,266.7 300.2,270.1Z" fill="#b9fbac"/>
<path d="M297.2,268.4 302.5,270.2 302.5,16.3 18.6,16.3 18.6,127.7 37.5,139.8 56,151.3 73,161.6 90.1,171.6 106.1,180.7 125.1,191.2 143.2,200.8 160.6,209.7 177.1,217.9 193.7,225.9 203.1,230.2 212.6,234.5 229.2,241.8 245.7,248.8 262.3,255.4 278.9,261.8 295.4,267.7Z" fill="#b7fbaa"/>
<path d="M299.1,268.4 302.5,269.5 302.5,16.3 18.6,16.3 18.6,127.2 37.5,139.3 56.4,151 75.4,162.4 91,171.6 99,176.2 110.9,182.8 127.3,191.8 144,200.7 160.6,209.2 177.1,217.4 194.4,225.6 203.1,229.7 212.6,233.9 229.2,241.2 245.7,248.2 262.4,254.9 271.8,258.4 281.2,262 290.7,265.4 297.8,267.9Z" fill="#b5fba8"/>
<path d="M301.7,268.4 302.5,268.6 302.5,16.3 18.6,16.3 18.6,126.5 36.3,137.8 54.4,149.1 73,160.3 91.9,171.4 108.5,180.8 118,186 127.4,191.2 136.9,196.2 145.7,200.8 162.9,209.6 179.5,217.8 196,225.6 205.5,230 215,234.2 231.5,241.4 248.1,248.3 264.7,254.9 274.1,258.5 283.6,262 293.1,265.4 300.2,267.8Z" fill="#b3fba6"/>
<path d="M297.7,266.1 302.5,267.7 302.5,16.3 18.6,16.3 18.6,125.8 37.5,137.9 55.6,149.1 73,159.6 89.6,169.3 106.1,178.7 115.6,184 125.1,189.1 142.8,198.6 160.6,207.7 177.1,215.8 193.7,223.7 203.1,228.1 212.6,232.4 229.2,239.6 245.7,246.5 262.3,253.1 278.9,259.4 286,262 295.4,265.3Z" fill="#b0fba5"/>
<path d="M300.3,266.1 302.5,266.8 302.5,16.3 18.6,16.3 18.6,125.1 37.5,137.2 56.4,148.9 75.4,160.3 91.9,169.9 110.8,180.6 127.4,189.7 144.3,198.6 153.5,203.3 162.9,208.1 180.3,216.6 188.9,220.7 198.4,225.1 215,232.6 224.4,236.8 233.9,240.8 250.5,247.6 267,254.1 274.1,256.8 283.6,260.3 293.1,263.6 300.2,266Z" fill="#aefba3"/>
<path d="M296.4,263.9 302.5,265.9 302.5,16.3 18.6,16.3 18.6,124.4 36.1,135.6 54.1,146.7 72.9,158.1 89.6,167.8 108.1,178.3 125.1,187.7 141.6,196.5 159,205.3 167.6,209.7 177.1,214.3 191.4,221.1 200.8,225.4 210.2,229.7 226.8,237 243.4,243.9 259.9,250.5 269.4,254.2 277.3,257.1 286,260.2 295.4,263.5Z" fill="#acfca1"/>
<path d="M299,263.9 302.5,265 302.5,16.3 18.6,16.3 18.6,123.7 37.5,135.7 55.4,146.8 73,157.4 89.6,167.1 108.5,177.8 125.1,186.9 142.8,196.3 160.6,205.4 177.1,213.5 193.7,221.4 203.1,225.7 212.6,230 229.2,237.2 245.7,244.1 255.2,247.8 264.7,251.5 274.1,255.1 281.2,257.7 290.7,261 297.8,263.5Z" fill="#aafc9f"/>
<path d="M301.7,263.9 302.5,264.1 302.5,16.3 18.6,16.3 18.6,123 37.5,135 56.4,146.7 75.4,158.1 91.9,167.7 110.7,178.3 127.4,187.4 144.3,196.3 153.5,201 162.9,205.8 180.4,214.3 188.9,218.4 198.4,222.8 215,230.2 224.4,234.3 233.9,238.4 250.5,245.1 267,251.5 276.5,255.1 283.6,257.6 293.1,260.9 300.2,263.4Z" fill="#a8fc9e"/>
<path d="M297.6,261.6 302.5,263.2 302.5,16.3 18.6,16.3 18.6,122.3 36,133.3 54.1,144.6 73,155.9 91.9,167 108.5,176.3 125.1,185.4 141.6,194.2 151.1,199.1 160.6,203.9 177.3,212.1 186.6,216.5 196,220.9 212.6,228.4 229.2,235.5 245.7,242.4 262.3,248.9 271.8,252.5 278.9,255.1 286,257.6 295.4,260.9Z" fill="#a5fc9c"/>
<path d="M301,261.6 302.5,262.1 302.5,16.3 18.6,16.3 18.6,121.4 37.5,133.4 56.4,145.1 74.3,155.8 91.9,166.1 109.7,176.1 127.4,185.7 144,194.5 153.5,199.3 162.9,204.1 179.5,212.2 188.9,216.6 198.4,221 207.9,225.3 217.3,229.5 233.9,236.5 250.5,243.2 257.6,246 267,249.6 275.1,252.6 283.6,255.7 293.1,258.9 300.2,261.3Z" fill="#a3fc9a"/>
<path d="M299.7,259.4 302.5,260.3 302.5,16.3 18.6,16.3 18.6,119.9 36.1,131.1 54.3,142.3 73,153.6 91.9,164.6 108.5,173.9 125.1,183 141.8,191.8 151.1,196.6 160.6,201.4 177.9,209.8 186.6,213.9 196,218.3 212.6,225.8 222.1,229.9 231.5,233.9 248.1,240.6 255.2,243.4 264.7,247 274.1,250.5 281.2,253.1 290.7,256.3 297.8,258.7Z" fill="#a1fc99"/>
<path d="M298.4,257.1 302.5,258.4 302.5,16.3 18.6,16.3 18.6,118.5 37.5,130.5 56.4,142.1 75.4,153.5 91.9,163.1 101.4,168.5 110.9,173.7 127.4,182.7 144.8,191.8 153.5,196.2 162.6,200.8 179.5,209 196,216.7 205.5,221 215,225.2 231.5,232.2 248.1,238.9 255.2,241.7 264.7,245.3 271.8,247.9 281.2,251.3 290.7,254.5 297.8,256.9Z" fill="#9ffb97"/>
<path d="M297.1,254.9 302.5,256.6 302.5,16.3 18.6,16.3 18.6,117 37.5,129 55.5,140.1 73,150.6 89.7,160.3 106.1,169.6 115.6,174.8 125.1,179.9 134.5,185 143.4,189.6 160.6,198.2 177.1,206.3 194.3,214.3 203.1,218.3 212.6,222.5 229.2,229.6 245.7,236.3 252.8,239.1 262.3,242.7 271.8,246.1 278.9,248.7 288.3,251.9 295.4,254.3Z" fill="#9dfb96"/>
<path d="M296.6,252.6 302.5,254.5 302.5,16.3 18.6,16.3 18.6,115.4 36.3,126.6 54.5,137.8 73,148.9 91.9,159.9 108.5,169.2 125.3,178.3 142.4,187.3 151.1,191.7 160.6,196.5 177.1,204.5 193.7,212.2 203.1,216.5 212.6,220.7 229.2,227.7 245.7,234.4 252.8,237.1 262.3,240.7 270.2,243.6 278.9,246.7 288.3,249.9 295.4,252.2Z" fill="#9bfa94"/>
<path d="M296.4,250.4 302.5,252.3 302.5,16.3 18.6,16.3 18.6,113.6 37.5,125.6 56.4,137.2 73,147.1 91.9,158.1 108.5,167.4 125.1,176.4 141.7,185.1 151.1,189.9 160.6,194.6 178.1,203.1 186.6,207.1 196,211.4 212.6,218.7 229.2,225.7 245.7,232.3 252.8,235.1 262.3,238.6 269.4,241.2 278.9,244.5 288.3,247.7 295.4,250Z" fill="#99f992"/>
<path d="M296.3,248.1 302.5,250 302.5,16.3 18.6,16.3 18.6,111.9 37.5,123.8 56.4,135.4 75.4,146.7 91.9,156.3 101.4,161.6 110.9,166.8 127.4,175.8 136.9,180.7 145.3,185.1 162.9,193.9 179.5,201.8 196,209.4 212.6,216.7 229.2,223.7 238.6,227.5 245.7,230.3 255.2,233.9 262.3,236.5 269.4,239.1 278.9,242.4 288.3,245.5 295.4,247.8Z" fill="#97f890"/>
<path d="M296.2,245.9 302.5,247.8 302.5,16.3 18.6,16.3 18.6,110.1 37.5,122 56.4,133.6 75.4,144.9 94.3,155.8 110.9,165 127.4,173.9 144.6,182.8 153.5,187.3 162.6,191.8 179.5,199.9 196.3,207.6 212.6,214.7 222.1,218.7 231.5,222.6 239,225.6 248.1,229.1 256.7,232.3 264.7,235.3 274.1,238.6 281.2,241 295.4,245.6Z" fill="#95f78e"/>
<path d="M295.4,243.6 302.5,245.8 302.5,16.3 18.6,16.3 18.6,108.5 37.5,120.4 56.4,132 73.8,142.3 91.9,152.8 109.5,162.6 126.2,171.6 134.5,176 144,180.8 160.6,189.1 177.1,197 193.7,204.7 210.2,211.9 226.8,218.9 243.4,225.4 250.5,228.1 259.9,231.6 268.2,234.6 276.5,237.5 286,240.6 293.1,242.9Z" fill="#94f68c"/>
<path d="M300.1,243.6 302.5,244.3 302.5,16.3 18.6,16.3 18.6,107.4 37.5,119.3 56.4,130.9 75.4,142.1 91.9,151.6 101.4,156.9 110.9,162.2 127.4,171 136.9,176 145.9,180.6 162.9,189 172.4,193.6 181.8,198 198.4,205.5 215,212.7 224.4,216.6 231.5,219.5 241,223.2 248.1,225.9 257.6,229.4 264.7,232 271.8,234.5 281.2,237.7 290.7,240.7 297.8,242.9Z" fill="#92f48a"/>
<path d="M297.3,241.4 302.5,242.9 302.5,16.3 18.6,16.3 18.6,106.3 39.9,119.6 58.7,131.1 77.7,142.3 93.5,151.3 110.9,161 127.4,169.8 144,178.4 153.5,183.2 162.9,187.8 179.5,195.7 196,203.2 205.5,207.4 215,211.4 222.1,214.3 231.5,218.2 238.9,221.1 248.1,224.6 256.9,227.8 264.7,230.6 274.1,233.9 281.2,236.3 295.4,240.8Z" fill="#90f387"/>
<path d="M302.2,241.4 302.5,241.5 302.5,16.3 18.6,16.3 18.6,105.1 37.5,117 56.9,128.8 75.4,139.8 84.8,145.2 94.3,150.6 111.9,160.3 120.3,164.9 129.8,169.9 146.4,178.4 155.8,183.1 165.3,187.7 181.8,195.5 188.9,198.8 198.6,203.1 215,210.1 224.4,214 233.9,217.8 242.4,221.1 250.5,224.1 259.9,227.6 267,230.1 274.1,232.5 283.6,235.6 293.1,238.6 300.2,240.8Z" fill="#8ff285"/>
<path d="M299.5,239.1 302.5,240 302.5,16.3 18.6,16.3 18.6,104 39.9,117.3 58.8,128.8 77.7,140 93.7,149.1 110.9,158.6 127.4,167.4 144.2,176.1 153.5,180.7 162.9,185.3 179.5,193.2 186.6,196.4 196.4,200.8 212.6,207.8 222.1,211.7 231.5,215.5 240,218.8 248.1,221.9 257.6,225.4 264.7,227.9 271.8,230.3 281.2,233.5 290.7,236.5 297.8,238.6Z" fill="#8df183"/>
<path d="M296.8,236.9 302.5,238.5 302.5,16.3 18.6,16.3 18.6,102.8 37.5,114.7 56.4,126.2 75.4,137.4 91.9,146.9 108.5,156.1 118,161.2 127.4,166.2 136.9,171.1 146.4,175.9 162.9,184.1 179.5,191.9 188.9,196.2 198.4,200.4 215,207.5 222.1,210.4 231.5,214.2 238.6,217 248.1,220.6 262.3,225.7 269.4,228.1 278.9,231.3 288.3,234.3 295.4,236.5Z" fill="#8bef81"/>
<path d="M301.8,236.9 302.5,237.1 302.5,16.3 18.6,16.3 18.6,101.7 39.9,115 58.8,126.5 77.7,137.6 94.3,147 110.9,156.2 120.3,161.3 129.8,166.2 139.3,171.1 148.7,175.9 165.3,184 172.4,187.4 182.1,191.8 191.3,196 200.8,200.2 207.9,203.2 217.3,207.2 224.4,210.1 233.9,213.8 241,216.5 250.5,220.1 259.9,223.5 267,225.9 274.1,228.3 283.6,231.4 293.1,234.3 300.2,236.4Z" fill="#8aee7f"/>
<path d="M299.1,234.6 302.5,235.6 302.5,16.3 18.6,16.3 18.6,100.5 38.7,113.1 57.2,124.3 75.4,135 84.8,140.5 94.3,145.8 103.8,151.1 112.5,155.8 129.8,165 147.1,173.8 155.8,178.2 165.3,182.7 174.7,187.2 184.2,191.5 200.8,198.9 210.2,202.9 217.3,205.9 226.8,209.7 233.9,212.5 243.4,216.1 250.5,218.7 257.6,221.3 267,224.5 276.5,227.7 283.6,229.9 297.8,234.2Z" fill="#88ed7d"/>
<path d="M296.4,232.3 302.5,234.1 302.5,16.3 18.6,16.3 18.6,99.4 39.9,112.6 58.8,124.1 77.7,135.2 94.2,144.6 110.9,153.7 127.5,162.6 136.9,167.4 145.1,171.6 153.5,175.7 162.9,180.3 172.4,184.8 181.8,189.2 198.4,196.6 207.9,200.6 215,203.6 224.4,207.4 231.5,210.2 241,213.8 248.1,216.5 255.2,219 264.7,222.3 274.1,225.5 281.2,227.8 295.4,232.1Z" fill="#87eb7b"/>
<path d="M295.4,230.1 302.5,232.1 302.5,16.3 18.6,16.3 18.6,97.8 39.5,110.8 58.1,122.1 77.3,133.3 93.1,142.3 110.9,152.1 127.4,160.9 144,169.4 153.5,174.1 162.3,178.3 171.8,182.8 179.5,186.4 186.6,189.6 196,193.8 203.1,196.9 212.6,200.8 222.1,204.7 229.2,207.5 236.3,210.2 245.7,213.8 260,218.8 267,221.2 276.5,224.3 286,227.3 293.1,229.4Z" fill="#85ea79"/>
<path d="M295.3,227.8 302.5,229.9 302.5,16.3 18.6,16.3 18.6,96.1 37.5,107.8 56.4,119.3 73,129 82.5,134.5 92.4,140.1 108.7,149.1 118,154 127.4,159 144,167.5 153.5,172.2 161.6,176.1 170,180.1 179.5,184.5 186.6,187.7 196,191.8 205.5,195.9 212.6,198.8 222.1,202.7 229.2,205.5 236.3,208.2 245.7,211.7 253.1,214.3 262.3,217.5 271.8,220.7 278.9,222.9 286,225.1 293.1,227.2Z" fill="#83e877"/>
<path d="M295.2,225.6 302.5,227.6 302.5,16.3 18.6,16.3 18.6,94.3 37.5,106 56.4,117.5 75.4,128.6 91.9,138 108.5,147.1 125.1,155.9 134.5,160.8 142.5,164.8 151.1,169.1 160.9,173.8 170,178.1 179.5,182.5 196,189.8 205.5,193.9 212.6,196.8 222.1,200.6 229.2,203.4 238.6,207 245.7,209.6 252.8,212.1 262.3,215.4 271.8,218.5 278.9,220.7 286,222.9 293.1,225Z" fill="#82e774"/>
<path d="M295.3,223.3 302.5,225.3 302.5,16.3 18.6,16.3 18.6,92.5 37.5,104.2 56.4,115.7 75.4,126.7 84.8,132.1 94.3,137.4 110.9,146.5 120.3,151.5 128.6,155.8 136.9,160.1 146.4,164.8 162.9,172.8 170,176.2 179.5,180.5 188.9,184.7 196,187.8 205.5,191.8 212.6,194.8 222.1,198.6 229.2,201.3 238.6,204.9 245.7,207.5 252.8,210 262.3,213.2 271.8,216.3 278.9,218.5 286,220.7 293.1,222.7Z" fill="#80e572"/>
<path d="M295.3,221.1 302.5,223 302.5,16.3 18.6,16.3 18.6,90.7 39.9,103.9 58.8,115.2 77.7,126.2 94.3,135.6 110.9,144.6 127.9,153.6 136.9,158.2 145.7,162.6 154.9,167.1 162.9,170.9 179.5,178.5 188.9,182.7 196,185.8 205,189.6 212.6,192.7 221.6,196.3 229.2,199.3 238.6,202.8 245.7,205.4 252.8,207.9 262.3,211.1 271.8,214.1 278.9,216.3 286,218.4 293.1,220.5Z" fill="#7ee470"/>
<path d="M295.5,218.8 302.5,220.7 302.5,16.3 18.6,16.3 18.6,88.9 39.9,102 58.3,113.1 77.6,124.3 94.3,133.7 110.9,142.7 120.3,147.7 129.8,152.6 146.4,160.9 154.3,164.8 163.8,169.3 172.4,173.3 181.8,177.6 188.9,180.7 198.4,184.8 205.5,187.8 215,191.6 222.1,194.4 231.5,198 239.1,200.8 248.1,204.1 257.6,207.3 264.7,209.7 271.8,211.9 279.7,214.3 288.3,216.9 295.4,218.8Z" fill="#7de26e"/>
<path d="M295.7,216.6 302.5,218.4 302.5,16.3 18.6,16.3 18.6,87.1 38.8,99.6 57.6,110.8 77,122.1 94.3,131.8 103.8,137 113.2,142 129.8,150.7 146.4,159 153.8,162.6 163.2,167.1 172.4,171.3 181.8,175.6 188.9,178.7 198.4,182.7 205.5,185.7 215,189.5 222.1,192.3 231.5,195.9 238.8,198.6 248.1,201.9 257.6,205.1 264.7,207.4 271.8,209.7 279.7,212.1 288.3,214.6 295.4,216.5Z" fill="#7be16c"/>
<path d="M296,214.3 302.5,216 302.5,16.3 18.6,16.3 18.6,85.3 37.5,96.9 57,108.6 75.4,119.2 84.8,124.6 94.3,129.9 103.8,135 113.2,140.1 129.8,148.7 146.4,157 153.5,160.4 162.9,164.9 172.4,169.3 181.8,173.5 188.9,176.6 198.4,180.7 207.9,184.6 215,187.4 224.4,191.1 231.5,193.8 238.6,196.4 248.1,199.7 257.6,202.9 264.7,205.2 271.8,207.4 279.8,209.8 288.3,212.3 295.4,214.2Z" fill="#79df6a"/>
<path d="M296.3,212.1 302.5,213.7 302.5,16.3 18.6,16.3 18.6,83.5 37.5,95.1 49.3,102.2 58.8,107.7 77.7,118.7 95.9,128.8 113.2,138.1 130,146.8 139.3,151.5 148.1,155.8 157.5,160.3 165.3,164 172.4,167.2 181.8,171.5 191.3,175.6 198.4,178.6 207.9,182.5 215,185.3 224.4,189 231.5,191.6 238.6,194.2 248.1,197.5 257.6,200.7 264.7,203 271.8,205.2 280,207.6 288.3,210 295.4,211.9Z" fill="#78de68"/>
<path d="M296.8,209.8 302.5,211.3 302.5,16.3 18.6,16.3 18.6,81.7 39.9,94.6 58.8,105.8 77.7,116.7 95.4,126.6 103.8,131.1 113.2,136.2 129.8,144.7 139.3,149.5 147.6,153.6 155.8,157.5 165.3,161.9 172.4,165.2 181.8,169.4 191.3,173.5 198.4,176.5 207.9,180.4 215,183.2 224.4,186.8 231.5,189.5 238.6,192 248.1,195.3 257.6,198.4 264.7,200.7 271.8,202.9 280.2,205.3 288.3,207.6 295.4,209.5Z" fill="#76dc66"/>
<path d="M301.1,207.6 302.5,207.9 302.5,16.3 18.6,16.3 18.6,79.1 37.5,90.6 49.3,97.6 58.8,103.2 77.7,114 87.2,119.3 96.7,124.5 113.2,133.4 122.7,138.3 132.2,143.1 148.8,151.3 158.2,155.8 167.6,160.2 177.1,164.4 184.2,167.5 193.7,171.6 203.1,175.5 210.3,178.3 219.7,182 227.9,185.1 236.3,188.1 245.7,191.4 252.8,193.8 260.8,196.3 269.4,199 276.5,201.1 283.7,203.1 293.1,205.6 300.2,207.4Z" fill="#74da64"/>
<path d="M296.5,203.1 302.5,204.5 302.5,16.3 18.6,16.3 18.6,76.5 30.4,83.7 41.9,90.6 61.1,101.8 80.1,112.7 96.7,121.8 114.1,131.1 122.7,135.5 132.2,140.3 148.7,148.4 155.8,151.8 165.3,156.2 174.5,160.3 181.8,163.6 190.1,167.1 198.4,170.6 206.5,173.8 215,177.1 224.1,180.6 231.5,183.3 241,186.6 248.1,189 256.7,191.8 264.7,194.3 271.8,196.4 279.3,198.6 288.3,201 295.4,202.8Z" fill="#73d863"/>
<path d="M301.3,200.8 302.5,201.1 302.5,16.3 18.6,16.3 18.6,73.9 30.4,81 42.2,88.1 61.2,99.2 80.1,109.9 89.6,115.1 99,120.3 115.6,129 125.1,133.9 134.5,138.6 142.1,142.3 151.4,146.8 160.6,151.1 170,155.4 177.1,158.5 186.6,162.6 196,166.6 203.1,169.4 212.6,173.2 219.7,175.9 226.8,178.5 236.3,181.9 245.7,185.1 252.8,187.4 259.9,189.6 269.4,192.5 276.5,194.5 283.6,196.4 291.9,198.6 300.2,200.6Z" fill="#71d661"/>
<path d="M296.7,196.3 302.5,197.7 302.5,16.3 18.6,16.3 18.6,71.2 39.9,84 58.8,95.1 70.6,101.8 78.7,106.3 87.2,111 99,117.4 116.4,126.6 125.1,131 134.5,135.7 143.4,140.1 151.1,143.7 158.2,147 167.6,151.3 177.1,155.5 184.2,158.6 193.7,162.5 200.8,165.4 210.2,169.2 217.3,171.9 226.8,175.3 233.9,177.9 241,180.3 248.7,182.8 255.8,185.1 264.7,187.8 271.8,189.8 279,191.8 288.3,194.3 295.4,196Z" fill="#6fd45f"/>
<path d="M302.1,194.1 302.5,194.2 302.5,16.3 18.6,16.3 18.6,68.6 39.9,81.3 51.7,88.2 61.2,93.6 80.1,104.3 89.6,109.5 99,114.6 108.5,119.6 117.6,124.3 134.5,132.8 144,137.4 153.5,141.9 160.6,145.1 170,149.4 179.5,153.5 186.6,156.5 195.8,160.3 203.1,163.3 212.6,166.9 219.7,169.6 226.8,172.2 236.3,175.5 244.9,178.3 252.8,180.9 259.9,183.1 269.4,185.8 276.5,187.8 283.6,189.7 292.4,191.8 300.2,193.7Z" fill="#6dd25e"/>
<path d="M297.7,189.6 302.5,190.6 302.5,16.3 18.6,16.3 18.6,65.9 39.9,78.5 60.7,90.6 80.1,101.4 96.7,110.4 106.1,115.4 114.6,119.8 122.7,123.9 132.2,128.7 141.6,133.3 151.1,137.7 166.1,144.6 181.8,151.4 191.3,155.4 200.8,159.2 209.5,162.6 217.3,165.5 226.8,168.9 233.9,171.4 241,173.8 248.1,176.1 255.4,178.3 264.7,181.1 271.8,183.1 279.2,185.1 288.3,187.4 295.4,189.1Z" fill="#6cd05c"/>
<path d="M293.5,185.1 302.5,187.1 302.5,16.3 18.6,16.3 18.6,63.2 42.2,77.1 61.2,88 80.1,98.6 89.6,103.7 99,108.8 115.9,117.6 125.1,122.2 134.5,126.8 143.4,131.1 151.1,134.7 158.2,138 167.6,142.2 177.1,146.3 184.2,149.3 193.7,153.2 200.8,156 210.2,159.6 217.3,162.3 224.4,164.8 231.5,167.3 238.6,169.7 245.7,172 252.8,174.2 262.3,177 269.4,179 276.5,180.9 284.1,182.8 293.1,185Z" fill="#6acd5a"/>
<path d="M299.6,182.8 302.5,183.4 302.5,16.3 18.6,16.3 18.6,60.5 39.9,73 61.2,85.1 80.1,95.7 89.6,100.8 99,105.8 108.5,110.8 117.4,115.3 126.4,119.8 134.5,123.8 144,128.3 153.5,132.7 160.6,135.9 169.9,140.1 179.5,144.2 186.6,147.1 196,150.9 203.1,153.7 210.2,156.4 219.7,159.9 226.8,162.4 234.1,164.8 241,167.1 250.5,170.1 257.6,172.2 267,174.9 274.1,176.8 281.2,178.6 289.5,180.6 297.8,182.4Z" fill="#68cb59"/>
<path d="M295.6,178.3 302.5,179.8 302.5,16.3 18.6,16.3 18.6,57.7 25.7,61.9 47,74.2 68.3,86.2 84.8,95.3 94.3,100.3 103.8,105.3 120.3,113.7 128.1,117.6 137.4,122.1 146.4,126.3 155.8,130.6 162.9,133.8 172.1,137.8 181.8,141.9 188.9,144.8 198.4,148.6 205.5,151.3 212.6,154 222.1,157.4 229.2,159.8 236.3,162.2 243.4,164.4 252,167.1 259.9,169.4 267,171.4 274.1,173.3 281.2,175 288.3,176.7 295.4,178.3Z" fill="#66c957"/>
<path d="M302.5,176.1 302.5,16.3 18.6,16.3 18.6,54.9 32.8,63.2 49.3,72.7 68.3,83.3 85.8,92.8 103.8,102.3 120.3,110.7 136.9,118.7 144,122.1 153.5,126.4 169.1,133.3 184.2,139.7 191.3,142.5 200.8,146.2 215,151.5 222.1,154 229.2,156.4 236.3,158.7 243.4,161 250.5,163.1 257.6,165.2 264.7,167.2 271.8,169.1 278.9,170.9 286,172.5 293.1,174.1 300.2,175.6Z" fill="#65c755"/>
<path d="M298.7,171.6 302.5,172.3 302.5,16.3 18.6,16.3 18.6,52.1 39.9,64.4 58.8,75.1 77.7,85.5 94.3,94.3 110.9,102.8 127,110.8 141.6,117.8 156,124.3 171.5,131.1 186.6,137.3 200.8,142.9 215,148.1 222.1,150.6 229.2,153 236.3,155.3 243.4,157.5 255.2,161 262.3,163 269.4,164.8 276.5,166.6 283.6,168.3 290.7,169.9 297.8,171.4Z" fill="#63c554"/>
<path d="M295.1,167.1 302.5,168.5 302.5,16.3 18.6,16.3 18.6,49.3 42.2,62.9 63.7,74.8 80.1,83.7 96.7,92.4 110.9,99.7 127.4,107.8 143.3,115.3 158.2,122 172.4,128.2 185,133.3 193.7,136.8 200.8,139.5 214.8,144.6 228,149.1 241,153.2 248.1,155.4 255.2,157.4 267,160.6 274.1,162.4 281.2,164.1 293.1,166.7Z" fill="#61c352"/>
<path d="M291.6,162.6 302.5,164.7 302.5,16.3 18.6,16.3 18.6,46.5 32.8,54.6 47,62.6 61.2,70.4 73,76.8 89.6,85.6 103.8,92.9 118,100 132.2,106.9 146.4,113.5 160.6,119.8 174.7,125.8 187.8,131.1 200.8,136 215,141.1 226.8,145.1 233.9,147.4 241,149.6 248.1,151.7 254.6,153.6 267,156.9 278.9,159.8 290.7,162.4Z" fill="#5fc150"/>
<path d="M299.8,160.3 302.5,160.8 302.5,16.3 18.6,16.3 18.6,43.6 39.9,55.6 58.8,66.1 75.4,75 92.1,83.8 106.1,90.9 120.3,97.9 134.5,104.7 148.7,111.2 162.9,117.4 174.7,122.4 188.9,128 200.8,132.5 215,137.6 226.8,141.6 238.6,145.3 250.5,148.7 262.3,151.9 274.1,154.9 286,157.6 297.8,160Z" fill="#5ebf4f"/>
<path d="M296.6,155.8 302.5,156.9 302.5,16.3 18.6,16.3 18.6,40.8 42.2,54 63.5,65.6 73,70.7 84.8,76.9 101.4,85.3 115.6,92.4 129.8,99.2 141.6,104.6 155.5,110.8 167.6,116 179.5,120.8 191.3,125.5 203.1,129.8 215,134 226.8,137.9 238.6,141.6 250.5,145 262.3,148.2 274.1,151.1 285.4,153.6 295.4,155.6Z" fill="#5cbd4d"/>
<path d="M293.7,151.3 302.5,152.9 302.5,16.3 18.6,16.3 18.6,37.9 44.6,52.3 65.9,63.8 77.7,70 87.2,74.9 99,80.9 108.5,85.6 122.7,92.5 134.5,98 146.4,103.4 158.2,108.5 170,113.5 181.8,118.3 193.7,122.8 205.5,127.1 217.3,131.2 229.2,135 238.6,137.9 250.5,141.2 262.3,144.4 271.8,146.7 282.6,149.1 293.1,151.2Z" fill="#5abb4b"/>
<path d="M291,146.8 302.5,148.9 302.5,16.3 18.6,16.3 18.6,35 47,50.5 58.8,56.9 70.6,63.1 82.5,69.3 94.3,75.3 106.1,81.2 115.6,85.7 127.4,91.3 139.3,96.8 151.1,102 162.9,107 172.4,110.9 184.2,115.6 196,120 207.9,124.3 219.7,128.2 229.2,131.2 241,134.8 250.5,137.4 259.9,139.9 269.9,142.3 281.2,144.8 290.7,146.8Z" fill="#59b94a"/>
<path d="M300.8,144.6 302.5,144.9 302.5,16.3 18.6,16.3 18.6,32 35.1,41 51.7,49.9 68.3,58.7 82.5,66 96.7,73.2 108.5,79 120.3,84.6 132.2,90.1 143.2,95.1 153.6,99.6 165.3,104.5 177.1,109.2 187.1,113.1 198.4,117.2 210.2,121.4 219.7,124.5 231.5,128.2 241,130.9 250.5,133.5 259.9,136 269.4,138.3 278.9,140.4 288.5,142.3 300.2,144.5Z" fill="#57b748"/>
<path d="M298.5,140.1 302.5,140.8 302.5,16.3 18.6,16.3 18.6,29.1 37.5,39.3 54.1,48.1 70.6,56.7 84.8,63.9 99,71 113.2,77.8 126,83.8 139.3,89.8 151.1,94.9 160.6,98.9 172.4,103.7 181.8,107.4 191.3,110.9 203.1,115.2 212.6,118.4 222.1,121.4 231.5,124.3 241,127 250.5,129.6 259.9,132 269.4,134.3 278.9,136.3 288.3,138.2 297.8,140Z" fill="#55b547"/>
<path d="M296.4,135.6 302.5,136.6 302.5,16.3 18.6,16.3 18.6,26.1 37.5,36.2 56.4,46.1 73,54.6 89.6,62.9 103.8,69.9 118,76.6 132.2,83.1 146.4,89.3 155.8,93.3 165.3,97.2 174.7,100.9 184.2,104.6 193.7,108 203.1,111.4 212.6,114.5 222.1,117.5 231.5,120.4 241,123.1 250.5,125.6 259.9,128 269.4,130.2 276.5,131.8 286,133.7 295.4,135.4Z" fill="#53b345"/>
<path d="M294.5,131.1 302.5,132.4 302.5,16.3 18.6,16.3 18.6,23.1 39.9,34.3 61.2,45.3 77.7,53.7 94.3,61.9 110.9,69.8 125.1,76.3 139.3,82.6 153.5,88.7 162.9,92.5 170,95.4 179.5,99 188.9,102.5 198.4,105.9 206.3,108.6 215,111.4 224.4,114.3 233.9,117.1 243.4,119.7 252.3,122.1 259.9,123.9 269.4,126.1 276.5,127.6 283.6,129.1 293.1,130.8Z" fill="#52b043"/>
<path d="M292.8,126.6 302.5,128.2 302.5,16.3 18.6,16.3 18.6,20.1 42.2,32.4 63.5,43.3 77.7,50.3 89.6,56.1 101.4,61.8 113.2,67.4 125.1,72.7 134.8,77.1 146.4,82 158.2,86.9 167.6,90.7 174.7,93.4 184.2,96.9 191.5,99.6 200.8,102.8 210.2,105.9 217.3,108.2 226,110.8 233.9,113.1 241,115.1 250.5,117.5 257.6,119.3 267,121.4 274.1,123 281.2,124.4 290.7,126.2Z" fill="#50ae42"/>
<path d="M291.4,122.1 302.5,123.9 302.5,16.3 18.6,16.3 18.6,17 39.9,28 56.4,36.4 70.6,43.5 82.5,49.3 94.3,55 113.2,63.8 122.7,68.1 132.2,72.2 148.7,79.3 158.2,83.1 165.6,86.1 172.4,88.7 181.8,92.2 189.8,95.1 198.4,98 207.9,101.2 215,103.4 222.1,105.6 229.2,107.7 236.3,109.7 243.4,111.6 250.5,113.4 259.9,115.7 268.4,117.6 276.5,119.2 283.6,120.6 290.7,121.9Z" fill="#4eac40"/>
<path d="M290.3,117.6 302.5,119.6 302.5,16.3 23.1,16.3 49.3,29.6 68.3,38.9 87.2,48.1 106.1,56.9 122.7,64.4 139.3,71.5 153.5,77.4 162.9,81.2 170,83.9 177.1,86.5 186.6,90 200.8,94.8 207.9,97.1 215,99.4 222.1,101.5 229.2,103.6 236.3,105.5 243.4,107.4 250.5,109.2 257.6,110.9 264.7,112.5 271.8,114 278.9,115.5 288.3,117.2Z" fill="#4caa3e"/>
<path d="M289.3,113.1 302.5,115.2 302.5,16.3 29.2,16.3 51.7,27.4 73,37.8 89.6,45.7 108.5,54.4 125.1,61.7 141.6,68.7 156.6,74.8 165.3,78.2 172.4,80.8 186.9,86.1 193.7,88.4 203.1,91.5 210.2,93.8 217.3,96 224.4,98 231.5,100 238.6,102 245.7,103.8 252.8,105.5 259.9,107.2 267,108.7 274.1,110.2 281.2,111.6 288.3,112.9Z" fill="#4ba83d"/>
<path d="M302.3,110.8 302.5,110.9 302.5,16.3 35.6,16.3 58.8,27.6 77.7,36.6 96.7,45.4 115.6,53.9 132.2,61 148.7,67.8 155.8,70.6 165.3,74.2 179.5,79.4 186.6,81.9 196,85.1 210.2,89.6 219.7,92.5 226.8,94.5 233.9,96.5 241,98.3 248.1,100.1 255.2,101.8 262.3,103.4 269.4,104.9 276.5,106.3 283.6,107.7 290.7,108.9 300.2,110.5Z" fill="#49a63b"/>
<path d="M301.7,106.3 302.5,106.4 302.5,16.3 42.3,16.3 65.9,27.6 84.8,36.4 103.8,44.9 120.3,52.2 136.9,59.1 153.5,65.7 167.6,71.1 181.8,76.2 191,79.3 198.4,81.7 212.6,86.2 219.7,88.2 226.8,90.2 233.9,92.2 241,94 248.1,95.8 255.2,97.4 262.3,99 269.4,100.5 276.5,101.9 283.6,103.3 290.7,104.5 300.2,106.1Z" fill="#47a439"/>
<path d="M301.3,101.8 302.5,102 302.5,16.3 49.2,16.3 70.6,26.3 89.6,34.9 106.1,42.3 122.7,49.3 139.3,56.1 153.5,61.7 162.9,65.3 170,67.9 184.2,72.9 198.4,77.5 205.5,79.8 215,82.6 229.2,86.6 236.3,88.4 243.4,90.2 257.6,93.6 264.7,95.1 271.8,96.6 286,99.2 300.2,101.6Z" fill="#46a238"/>
<path d="M301.1,97.3 302.5,97.5 302.5,16.3 56.5,16.3 75.4,24.9 94.3,33.4 110.9,40.5 127.4,47.4 144,54 158.2,59.4 172.4,64.6 186.6,69.4 200.8,74 215,78.3 229.2,82.2 243.4,85.8 257.6,89.1 271.8,92.1 286,94.8 300.2,97.2Z" fill="#45a036"/>
<path d="M301.1,92.8 302.5,93 302.5,16.3 64,16.3 82.5,24.5 99,31.7 115.6,38.7 132.2,45.4 146.4,50.9 160.6,56.2 174.7,61.2 188.9,66 203.1,70.4 217.3,74.6 229.2,77.8 243.4,81.4 257.6,84.6 271.8,87.6 286,90.3 300.2,92.7Z" fill="#449e35"/>
<path d="M301.1,88.3 302.5,88.5 302.5,16.3 72,16.3 89.6,23.9 106.1,30.9 120.3,36.7 136.9,43.2 151.1,48.6 165.3,53.7 179.5,58.6 191.3,62.4 205.5,66.8 217.9,70.3 231.5,74 245.7,77.4 257.6,80.1 271.8,83.1 286,85.7 300.2,88.2Z" fill="#429c33"/>
<path d="M301.2,83.8 302.5,84 302.5,16.3 80.3,16.3 96.7,23.2 113.2,29.9 127.4,35.6 141.6,41 155.8,46.2 170,51.1 181.8,55.1 196,59.5 210.2,63.7 222.1,67 234.9,70.3 248.1,73.5 259.9,76.1 274.1,79 286,81.2 300.2,83.6Z" fill="#419a31"/>
<path d="M301.4,79.3 302.5,79.5 302.5,16.3 89.2,16.3 103.8,22.2 118,27.9 132.2,33.3 146.4,38.6 160.6,43.6 172.4,47.6 186.6,52.2 198.4,55.8 210.2,59.2 224.4,63.1 236.3,66.1 248.1,68.9 259.9,71.5 274.1,74.4 286,76.6 300.2,79.1Z" fill="#409830"/>
<path d="M301.6,74.8 302.5,75 302.5,16.3 98.5,16.3 110.9,21.1 125.1,26.6 139.3,31.8 151.1,36.1 165.3,40.9 177.1,44.8 188.9,48.5 200.8,52.1 212.6,55.4 224.4,58.5 236.3,61.5 248.1,64.3 259.9,66.9 274.1,69.8 286,72.1 300.2,74.6Z" fill="#3e962e"/>
<path d="M301.8,70.3 302.5,70.4 302.5,16.3 108.5,16.3 120.3,20.8 134.5,26 146.4,30.2 158.2,34.3 170,38.2 181.8,41.9 193.7,45.5 205.5,48.9 217.3,52.1 226.8,54.6 238.6,57.5 250.5,60.2 262.3,62.8 274.1,65.2 286,67.5 300.2,70Z" fill="#3d942d"/>
<path d="M301.9,65.8 302.5,65.9 302.5,16.3 119.1,16.3 132.2,21 144,25.1 155.8,29.2 165.3,32.3 177.1,36 188.9,39.6 200.8,43 210.2,45.6 219.7,48.2 231.5,51.2 241,53.4 252.8,56.1 264.7,58.7 276.5,61.1 288.3,63.3 300.2,65.5Z" fill="#3c922b"/>
<path d="M302,61.3 302.5,61.4 302.5,16.3 130.6,16.3 141.6,20.1 153.5,24.1 165.3,27.9 174.7,30.9 184.2,33.7 193.7,36.5 203.1,39.1 215,42.3 224.4,44.8 233.9,47.1 243.4,49.3 255.2,52 264.7,54 276.5,56.5 288.3,58.8 300.2,61Z" fill="#3a9029"/>
<path d="M301.9,56.8 302.5,56.9 302.5,16.3 142.9,16.3 153.5,19.8 162.9,22.8 172.4,25.7 181.8,28.5 191.3,31.3 200.8,33.9 210.2,36.5 219.7,38.9 229.2,41.3 238.6,43.6 248.1,45.8 257.6,47.9 267,49.9 278.9,52.3 300.2,56.5Z" fill="#398e28"/>
<path d="M301.7,52.3 302.5,52.4 302.5,16.3 156.2,16.3 174.7,22 191.3,26.7 207.9,31.3 224.4,35.5 241,39.5 259.9,43.8 278.9,47.8 300.2,52Z" fill="#388c26"/>
<path d="M301.5,47.8 302.5,48 302.5,16.3 170.6,16.3 186.6,20.9 200.8,24.8 215,28.5 231.5,32.6 248.1,36.5 264.7,40.2 281.2,43.7 300.2,47.5Z" fill="#378a25"/>
<path d="M293.5,41 302.5,42.9 302.5,16.3 188.9,16.3 200.8,19.5 212.6,22.6 226.8,26.1 238.6,29 250.5,31.7 264.7,34.9 278.9,38 293.1,41Z" fill="#358823"/>
<path d="M298.9,36.5 302.5,37.3 302.5,16.3 211,16.3 231.5,21.4 250.5,25.8 271.8,30.7 297.8,36.3Z" fill="#348622"/>
<path d="M293.4,29.8 302.5,31.8 302.5,16.3 234.6,16.3 259.9,22.2 293.1,29.7Z" fill="#328420"/>
<path d="M297.7,25.3 302.5,26.4 302.5,16.3 258.9,16.3 295.4,24.8Z" fill="#31821e"/>
<path d="M301.4,20.8 302.5,21 302.5,16.3 282.5,16.3 300.2,20.5Z" fill="#30801d"/></g>
<g fill="none" stroke="rgba(50,90,170,0.48)" stroke-width="0.45"><path d="M18.6,277.4 31.9,286.4"/>
<path d="M18.6,237.8 32.8,247.2 47.4,256.8"/>
<path d="M59.7,264.7 76.1,275.1 94,286.4"/>
<path d="M18.6,193.8 32.7,203.1 43.2,209.8 54.1,216.8 68.3,225.7 82.5,234.4 94.3,241.5 108.5,250 121.1,257.4"/>
<path d="M131.2,263.2 151.1,274.5 172.3,286.4"/>
<path d="M18.6,143 31.5,151.3 44.6,159.6 56.5,167.1 70.6,175.7 82.6,182.8 96.7,191 109.9,198.6 122.7,205.7 136.9,213.5 151.1,221 164.2,227.8 177.1,234.4 191.3,241.4 203.1,247.1 215,252.6 229.2,259.1"/>
<path d="M234.7,261.6 250.5,268.5 264.7,274.5 278.9,280.3 294.2,286.4"/>
<path d="M18.6,81.7 37.5,93.3 56.4,104.6 75.4,115.5 92.9,125.3"/>
<path d="M100.9,129.7 115.6,137.5 127.4,143.6 141.6,150.8 153.5,156.5 166.4,162.6 179.5,168.5 191.8,173.8 205.5,179.5 219.6,185.1 231.5,189.6 243.4,193.8 255.2,197.8 267,201.6 278.9,205.1 290.7,208.4 302.5,211.4"/>
<path d="M38.9,16.3 56.4,24.8 70.6,31.5 84.8,38.2 99,44.7 110.9,49.9 125.1,56.1 136.9,61 148.7,65.8 160.6,70.4 172.4,74.9 184.2,79.1 196,83.1 207.9,86.8 219.7,90.4 229.2,93.1 241,96.2"/>
<path d="M252.2,98.9 264.7,101.7 276.5,104.2 288.3,106.3 302.5,108.7"/></g>
<path fill="#fff" fill-rule="evenodd" d="M15.9,13.4 H305.2 V289.2 H15.9 Z M21.9,19.45 H299.2 V283.2 H21.9 Z"/>
<text x="246.6" y="97.8" font-size="5.25" text-anchor="middle" fill="#0a0a0a" class="cl" transform="rotate(14 246.6 97.8)" dy="0.35em">10k</text>
<text x="96.7" y="127.7" font-size="5.25" text-anchor="middle" fill="#0a0a0a" class="cl" transform="rotate(30 96.7 127.7)" dy="0.35em">5k</text>
<text x="231.4" y="261.2" font-size="5.25" text-anchor="middle" fill="#0a0a0a" class="cl" transform="rotate(25 231.4 261.2)" dy="0.35em">0</text>
<text x="126" y="260.7" font-size="5.25" text-anchor="middle" fill="#0a0a0a" class="cl" transform="rotate(31 126 260.7)" dy="0.35em">−5k</text>
<text x="53.3" y="261.4" font-size="5.25" text-anchor="middle" fill="#0a0a0a" class="cl" transform="rotate(33 53.3 261.4)" dy="0.35em">−10k</text>
<path d="M21.65,19.45 V283.45 H299.2" fill="none" stroke="#888" stroke-width="0.5"/>
<path d="M22,283.7 v2.3M21.4,283.2 h-2.3M49.73,283.7 v2.3M21.4,256.82 h-2.3M77.46,283.7 v2.3M21.4,230.45 h-2.3M105.19,283.7 v2.3M21.4,204.07 h-2.3M132.92,283.7 v2.3M21.4,177.7 h-2.3M160.65,283.7 v2.3M21.4,151.32 h-2.3M188.38,283.7 v2.3M21.4,124.95 h-2.3M216.11,283.7 v2.3M21.4,98.57 h-2.3M243.84,283.7 v2.3M21.4,72.2 h-2.3M271.57,283.7 v2.3M21.4,45.82 h-2.3M299.3,283.7 v2.3M21.4,19.45 h-2.3" stroke="#444" stroke-width="0.5" fill="none"/>
<text x="21.9" y="292.4" font-size="5.25" text-anchor="middle">0.0</text>
<text x="17.8" y="285.4" font-size="5.25" text-anchor="end">0.0</text>
<text x="49.6" y="292.4" font-size="5.25" text-anchor="middle">0.1</text>
<text x="17.8" y="259" font-size="5.25" text-anchor="end">0.1</text>
<text x="77.4" y="292.4" font-size="5.25" text-anchor="middle">0.2</text>
<text x="17.8" y="232.6" font-size="5.25" text-anchor="end">0.2</text>
<text x="105.1" y="292.4" font-size="5.25" text-anchor="middle">0.3</text>
<text x="17.8" y="206.3" font-size="5.25" text-anchor="end">0.3</text>
<text x="132.8" y="292.4" font-size="5.25" text-anchor="middle">0.4</text>
<text x="17.8" y="179.9" font-size="5.25" text-anchor="end">0.4</text>
<text x="160.6" y="292.4" font-size="5.25" text-anchor="middle">0.5</text>
<text x="17.8" y="153.5" font-size="5.25" text-anchor="end">0.5</text>
<text x="188.3" y="292.4" font-size="5.25" text-anchor="middle">0.6</text>
<text x="17.8" y="127.1" font-size="5.25" text-anchor="end">0.6</text>
<text x="216" y="292.4" font-size="5.25" text-anchor="middle">0.7</text>
<text x="17.8" y="100.8" font-size="5.25" text-anchor="end">0.7</text>
<text x="243.7" y="292.4" font-size="5.25" text-anchor="middle">0.8</text>
<text x="17.8" y="74.4" font-size="5.25" text-anchor="end">0.8</text>
<text x="271.5" y="292.4" font-size="5.25" text-anchor="middle">0.9</text>
<text x="17.8" y="48" font-size="5.25" text-anchor="end">0.9</text>
<text x="299.2" y="292.4" font-size="5.25" text-anchor="middle">1.0</text>
<text x="17.8" y="21.6" font-size="5.25" text-anchor="end">1.0</text>
<text x="160.5" y="306.3" font-size="6.1" text-anchor="middle">Sensitivity</text>
<text x="5.6" y="151.3" font-size="6.1" text-anchor="middle" transform="rotate(-90 5.6 151.3)">Specificity</text>
<text x="44.0" y="6.4" font-size="7.3" textLength="256.4" lengthAdjust="spacing">Incremental net monetary benefit (INMB) across SC accuracy levels</text>
<defs><linearGradient id="g1" gradientUnits="userSpaceOnUse" x1="0" y1="146.6" x2="0" y2="33.9"><stop offset="0.0000" stop-color="#16089b"/><stop offset="0.0250" stop-color="#221ba5"/><stop offset="0.0500" stop-color="#2d2daf"/><stop offset="0.0750" stop-color="#3b45b8"/><stop offset="0.1000" stop-color="#485cc1"/><stop offset="0.1250" stop-color="#536ec8"/><stop offset="0.1400" stop-color="#5a78cc"/><stop offset="0.1500" stop-color="#5f7ece"/><stop offset="0.1750" stop-color="#6a8ed4"/><stop offset="0.1750" stop-color="#6a8ed4"/><stop offset="0.2000" stop-color="#7ca5dc"/><stop offset="0.2050" stop-color="#80aade"/><stop offset="0.2250" stop-color="#90bee3"/><stop offset="0.2350" stop-color="#98c8e6"/><stop offset="0.2500" stop-color="#9dd4ea"/><stop offset="0.2635" stop-color="#a2deee"/><stop offset="0.2750" stop-color="#99e5f2"/><stop offset="0.3000" stop-color="#87f5fc"/><stop offset="0.3000" stop-color="#87f5fc"/><stop offset="0.3250" stop-color="#82fcfe"/><stop offset="0.3350" stop-color="#80ffff"/><stop offset="0.3500" stop-color="#80ffff"/><stop offset="0.3750" stop-color="#80ffff"/><stop offset="0.4000" stop-color="#80ffff"/><stop offset="0.4250" stop-color="#80ffff"/><stop offset="0.4500" stop-color="#80ffff"/><stop offset="0.4650" stop-color="#80ffff"/><stop offset="0.4750" stop-color="#a1fef4"/><stop offset="0.5000" stop-color="#f2fada"/><stop offset="0.5150" stop-color="#e2face"/><stop offset="0.5250" stop-color="#d3fbc1"/><stop offset="0.5300" stop-color="#cbfbbb"/><stop offset="0.5450" stop-color="#b5fba8"/><stop offset="0.5500" stop-color="#affba4"/><stop offset="0.5600" stop-color="#a4fc9b"/><stop offset="0.5750" stop-color="#9cfb95"/><stop offset="0.5750" stop-color="#9cfb95"/><stop offset="0.5950" stop-color="#94f68c"/><stop offset="0.6000" stop-color="#91f488"/><stop offset="0.6200" stop-color="#86eb7a"/><stop offset="0.6250" stop-color="#84e978"/><stop offset="0.6500" stop-color="#7be06c"/><stop offset="0.6625" stop-color="#76dc66"/><stop offset="0.6750" stop-color="#72d863"/><stop offset="0.7000" stop-color="#6bcf5c"/><stop offset="0.7250" stop-color="#64c755"/><stop offset="0.7500" stop-color="#5dbe4e"/><stop offset="0.7750" stop-color="#56b648"/><stop offset="0.8000" stop-color="#4fad41"/><stop offset="0.8250" stop-color="#48a53a"/><stop offset="0.8250" stop-color="#48a53a"/><stop offset="0.8500" stop-color="#439d34"/><stop offset="0.8750" stop-color="#3d952d"/><stop offset="0.9000" stop-color="#388c27"/><stop offset="0.9100" stop-color="#368924"/><stop offset="0.9250" stop-color="#338521"/><stop offset="0.9500" stop-color="#2f7f1c"/><stop offset="0.9750" stop-color="#2a7817"/><stop offset="1.0000" stop-color="#267212"/></linearGradient></defs>
<rect x="309.4" y="33.6" width="13.5" height="113.2" fill="url(#g1)"/>
<path d="M309.4,126.8 H322.9M309.4,108.5 H322.9M309.4,90.2 H322.9M309.4,72 H322.9M309.4,53.7 H322.9" stroke="rgba(50,90,170,0.48)" stroke-width="0.45" fill="none"/>
<rect x="309.4" y="33.6" width="13.5" height="113.2" fill="none" stroke="#555" stroke-width="0.45"/>
<text x="325" y="147" font-size="5.25">−15k</text>
<text x="325" y="128.7" font-size="5.25">−10k</text>
<text x="325" y="110.4" font-size="5.25">−5k</text>
<text x="325" y="92.2" font-size="5.25">0</text>
<text x="325" y="73.9" font-size="5.25">5k</text>
<text x="325" y="55.6" font-size="5.25">10k</text>
<text x="325" y="37.3" font-size="5.25">15k</text>
<path d="M323.1,145.1 h1.0M323.1,126.8 h1.0M323.1,108.5 h1.0M323.1,90.2 h1.0M323.1,72 h1.0M323.1,53.7 h1.0M323.1,35.4 h1.0" stroke="#444" stroke-width="0.5" fill="none"/>
<text x="309.1" y="29.7" font-size="6.1" textLength="28.3" lengthAdjust="spacing">INMB ($)</text>
<g><rect x="364.8" y="16.3" width="272.5" height="270.1" fill="#16089b"/>
<path d="M369.3,284.1 371,286.4 637.3,286.4 637.3,16.3 364.8,16.3 364.8,278.1 367.6,281.9Z" fill="#170a9c"/>
<path d="M370.1,284.1 371.8,286.4 637.3,286.4 637.3,16.3 364.8,16.3 364.8,276.9 369.3,283Z" fill="#190c9d"/>
<path d="M371,284.1 372.7,286.4 637.3,286.4 637.3,16.3 364.8,16.3 364.8,275.8 369.3,281.9Z" fill="#1a0e9e"/>
<path d="M373.5,286.4 637.3,286.4 637.3,16.3 364.8,16.3 364.8,274.7 371.8,284.1Z" fill="#1b10a0"/>
<path d="M372.6,284.1 374.3,286.4 637.3,286.4 637.3,16.3 364.8,16.3 364.8,273.7 371.6,282.7Z" fill="#1c12a1"/>
<path d="M373.4,284.1 375.1,286.4 637.3,286.4 637.3,16.3 364.8,16.3 364.8,272.6 371.7,281.9Z" fill="#1e15a2"/>
<path d="M375.9,286.4 637.3,286.4 637.3,16.3 364.8,16.3 364.8,271.6 374.2,284.1Z" fill="#1f17a3"/>
<path d="M374.9,284.1 376.6,286.4 637.3,286.4 637.3,16.3 364.8,16.3 364.8,270.5 373.8,282.7Z" fill="#2019a4"/>
<path d="M375.7,284.1 377.4,286.4 637.3,286.4 637.3,16.3 364.8,16.3 364.8,269.5 374,281.9Z" fill="#221ba5"/>
<path d="M378.1,286.4 637.3,286.4 637.3,16.3 364.8,16.3 364.8,268.5 376.4,284.1Z" fill="#231da6"/>
<path d="M377.2,284.1 378.9,286.4 637.3,286.4 637.3,16.3 364.8,16.3 364.8,267.5 376.1,282.7Z" fill="#241fa7"/>
<path d="M377.9,284.1 379.6,286.4 637.3,286.4 637.3,16.3 364.8,16.3 364.8,266.5 376.2,281.9Z" fill="#2621a9"/>
<path d="M380.4,286.4 637.3,286.4 637.3,16.3 364.8,16.3 364.8,265.5 378.7,284.1Z" fill="#2723aa"/>
<path d="M379.4,284.1 381.1,286.4 637.3,286.4 637.3,16.3 364.8,16.3 364.8,264.6 378.4,282.8Z" fill="#2825ab"/>
<path d="M380.1,284.1 381.8,286.4 637.3,286.4 637.3,16.3 364.8,16.3 364.8,263.6 378.4,281.9Z" fill="#2a27ac"/>
<path d="M382.5,286.4 637.3,286.4 637.3,16.3 364.8,16.3 364.8,262.6 380.8,284.1Z" fill="#2b2aad"/>
<path d="M381.5,284.1 383.2,286.4 637.3,286.4 637.3,16.3 364.8,16.3 364.8,261.7 380.7,282.9Z" fill="#2c2cae"/>
<path d="M382.2,284.1 383.9,286.4 637.3,286.4 637.3,16.3 364.8,16.3 364.8,260.8 380.7,282Z" fill="#2d2eaf"/>
<path d="M382.8,284.1 384.5,286.4 637.3,286.4 637.3,16.3 364.8,16.3 364.8,260 381.1,281.9Z" fill="#2f30b0"/>
<path d="M385,286.4 637.3,286.4 637.3,16.3 364.8,16.3 364.8,259.3 383.3,284.1Z" fill="#3032b1"/>
<path d="M383.9,284.1 385.6,286.4 637.3,286.4 637.3,16.3 364.8,16.3 364.8,258.6 382.9,282.9Z" fill="#3134b2"/>
<path d="M384.4,284.1 386.1,286.4 637.3,286.4 637.3,16.3 364.8,16.3 364.8,257.8 382.9,282.1Z" fill="#3236b2"/>
<path d="M385,284.1 386.7,286.4 637.3,286.4 637.3,16.3 364.8,16.3 364.8,257.1 383.3,281.9Z" fill="#3338b3"/>
<path d="M387.2,286.4 637.3,286.4 637.3,16.3 364.8,16.3 364.8,256.4 385.5,284.1Z" fill="#343ab4"/>
<path d="M386.1,284.1 387.8,286.4 637.3,286.4 637.3,16.3 364.8,16.3 364.8,255.6 385.2,283Z" fill="#363cb5"/>
<path d="M386.6,284.1 388.3,286.4 637.3,286.4 637.3,16.3 364.8,16.3 364.8,254.9 385.2,282.2Z" fill="#373eb6"/>
<path d="M387.2,284.1 388.9,286.4 637.3,286.4 637.3,16.3 364.8,16.3 364.8,254.1 385.5,281.9Z" fill="#3840b6"/>
<path d="M389.4,286.4 637.3,286.4 637.3,16.3 364.8,16.3 364.8,253.4 387.7,284.1Z" fill="#3942b7"/>
<path d="M388.3,284.1 390,286.4 637.3,286.4 637.3,16.3 364.8,16.3 364.8,252.6 387.5,283Z" fill="#3a44b8"/>
<path d="M388.9,284.1 390.6,286.4 637.3,286.4 637.3,16.3 364.8,16.3 364.8,251.9 387.5,282.3Z" fill="#3b46b9"/>
<path d="M389.4,284.1 391.1,286.4 637.3,286.4 637.3,16.3 364.8,16.3 364.8,251.1 387.7,281.9Z" fill="#3d48b9"/>
<path d="M391.7,286.4 637.3,286.4 637.3,16.3 364.8,16.3 364.8,250.3 378.4,268.6 390,284.1Z" fill="#3e4aba"/>
<path d="M390.6,284.1 392.3,286.4 637.3,286.4 637.3,16.3 364.8,16.3 364.8,249.5 378.4,267.9 389.7,283Z" fill="#3f4cbb"/>
<path d="M391.2,284.1 392.9,286.4 637.3,286.4 637.3,16.3 364.8,16.3 364.8,248.8 376.1,264.1 389.7,282.2Z" fill="#404ebc"/>
<path d="M391.7,284.1 393.4,286.4 637.3,286.4 637.3,16.3 364.8,16.3 364.8,248 378.4,266.3 390,281.9Z" fill="#4150bd"/>
<path d="M394,286.4 637.3,286.4 637.3,16.3 364.8,16.3 364.8,247.2 380.7,268.6 392.3,284.1Z" fill="#4252bd"/>
<path d="M392.9,284.1 394.6,286.4 637.3,286.4 637.3,16.3 364.8,16.3 364.8,246.4 376.1,261.7 392,282.9Z" fill="#4454be"/>
<path d="M393.6,284.1 395.3,286.4 637.3,286.4 637.3,16.3 364.8,16.3 364.8,245.5 378.4,263.9 392,282.1Z" fill="#4556bf"/>
<path d="M394.2,284.1 395.9,286.4 637.3,286.4 637.3,16.3 364.8,16.3 364.8,244.7 380.7,266.1 392.5,281.9Z" fill="#4659c0"/>
<path d="M396.5,286.4 637.3,286.4 637.3,16.3 364.8,16.3 364.8,243.9 382.9,268.3 394.8,284.1Z" fill="#475bc0"/>
<path d="M395.5,284.1 397.2,286.4 637.3,286.4 637.3,16.3 364.8,16.3 364.8,242.9 378.4,261.3 394.3,282.5Z" fill="#485dc1"/>
<path d="M396.4,284.1 398.1,286.4 637.3,286.4 637.3,16.3 364.8,16.3 364.8,241.7 380.7,263.1 394.7,281.9Z" fill="#4a5fc2"/>
<path d="M397.3,284.1 399,286.4 637.3,286.4 637.3,16.3 364.8,16.3 364.8,240.5 380.7,261.9 396.6,283.1Z" fill="#4b61c3"/>
<path d="M398.2,284.1 399.9,286.4 637.3,286.4 637.3,16.3 364.8,16.3 364.8,239.3 382.9,263.8 396.6,281.9Z" fill="#4c63c4"/>
<path d="M400.8,286.4 637.3,286.4 637.3,16.3 364.8,16.3 364.8,238 380.7,259.5 399.1,284.1Z" fill="#4e65c5"/>
<path d="M400,284.1 401.7,286.4 637.3,286.4 637.3,16.3 364.8,16.3 364.8,236.8 382.9,261.3 398.8,282.5Z" fill="#4f67c5"/>
<path d="M400.9,284.1 402.6,286.4 637.3,286.4 637.3,16.3 364.8,16.3 364.8,235.5 380.7,257 399.2,281.9Z" fill="#5169c6"/>
<path d="M401.9,284.1 403.6,286.4 637.3,286.4 637.3,16.3 364.8,16.3 364.8,234.3 382.9,258.8 401.1,283.1Z" fill="#526bc7"/>
<path d="M402.8,284.1 404.5,286.4 637.3,286.4 637.3,16.3 364.8,16.3 364.8,233 382.9,257.6 401.1,281.9Z" fill="#536dc8"/>
<path d="M405.4,286.4 637.3,286.4 637.3,16.3 364.8,16.3 364.8,231.8 385.2,259.4 403.7,284.1Z" fill="#5570c9"/>
<path d="M404.7,284.1 406.4,286.4 637.3,286.4 637.3,16.3 364.8,16.3 364.8,230.5 382.9,255.1 403.4,282.4Z" fill="#5672ca"/>
<path d="M405.6,284.1 407.3,286.4 637.3,286.4 637.3,16.3 364.8,16.3 364.8,229.2 385.2,256.9 403.9,281.9Z" fill="#5774ca"/>
<path d="M406.6,284.1 408.3,286.4 637.3,286.4 637.3,16.3 364.8,16.3 364.8,227.9 382.9,252.5 405.6,282.9Z" fill="#5976cb"/>
<path d="M407.5,284.1 409.2,286.4 637.3,286.4 637.3,16.3 364.8,16.3 364.8,226.6 385.2,254.3 405.8,281.9Z" fill="#5a78cc"/>
<path d="M408.6,284.1 410.3,286.4 637.3,286.4 637.3,16.3 364.8,16.3 364.8,225.1 385.2,252.9 407.9,283.2Z" fill="#5c7acd"/>
<path d="M409.7,284.1 411.4,286.4 637.3,286.4 637.3,16.3 364.8,16.3 364.8,223.7 387.5,254.5 408,281.9Z" fill="#5d7cce"/>
<path d="M410.8,284.1 412.5,286.4 637.3,286.4 637.3,16.3 364.8,16.3 364.8,222.2 387.5,253 410.2,283.3Z" fill="#5f7ece"/>
<path d="M411.9,284.1 413.6,286.4 637.3,286.4 637.3,16.3 364.8,16.3 364.8,220.7 387.5,251.5 410.2,281.9Z" fill="#6080cf"/>
<path d="M414.7,286.4 637.3,286.4 637.3,16.3 364.8,16.3 364.8,219.2 387.5,250.1 401.1,268.3 413,284.1Z" fill="#6282d0"/>
<path d="M414.1,284.1 415.8,286.4 637.3,286.4 637.3,16.3 364.8,16.3 364.8,217.7 387.5,248.6 398.8,263.8 412.5,282Z" fill="#6385d1"/>
<path d="M416.9,286.4 637.3,286.4 637.3,16.3 364.8,16.3 364.8,216.2 378.4,234.8 389.7,250.1 403.4,268.4 415.2,284.1Z" fill="#6587d1"/>
<path d="M416.3,284.1 418,286.4 637.3,286.4 637.3,16.3 364.8,16.3 364.8,214.7 376.1,230.2 389.7,248.6 401.1,263.9 414.7,282Z" fill="#6689d2"/>
<path d="M419.2,286.4 637.3,286.4 637.3,16.3 364.8,16.3 364.8,213.1 378.4,231.7 392,250.2 405.6,268.4 417.5,284.1Z" fill="#688bd3"/>
<path d="M418.6,284.1 420.3,286.4 637.3,286.4 637.3,16.3 364.8,16.3 364.8,211.6 378.4,230.2 389.7,245.6 403.4,263.9 417,282Z" fill="#698dd4"/>
<path d="M421.3,286.4 637.3,286.4 637.3,16.3 364.8,16.3 364.8,210.3 378.4,228.9 392,247.3 405.6,265.6 419.6,284.1Z" fill="#6b8fd4"/>
<path d="M420.3,284.1 422,286.4 637.3,286.4 637.3,16.3 364.8,16.3 364.8,209.2 378.4,227.9 392,246.3 405.6,264.6 419.3,282.7Z" fill="#6c91d5"/>
<path d="M421,284.1 422.7,286.4 637.3,286.4 637.3,16.3 364.8,16.3 364.8,208.2 378.4,226.9 392,245.3 405.6,263.6 419.3,281.9Z" fill="#6e93d6"/>
<path d="M423.5,286.4 637.3,286.4 637.3,16.3 364.8,16.3 364.8,207.2 378.4,225.9 392,244.3 407.9,265.7 421.8,284.1Z" fill="#7095d7"/>
<path d="M422.5,284.1 424.2,286.4 637.3,286.4 637.3,16.3 364.8,16.3 364.8,206.2 378.4,224.8 392,243.3 405.6,261.6 421.5,282.8Z" fill="#7197d7"/>
<path d="M423.3,284.1 425,286.4 637.3,286.4 637.3,16.3 364.8,16.3 364.8,205.1 378.4,223.8 394.3,245.4 407.9,263.7 421.6,281.9Z" fill="#7399d8"/>
<path d="M425.8,286.4 637.3,286.4 637.3,16.3 364.8,16.3 364.8,204.1 380.7,225.9 394.3,244.4 410.2,265.7 424.1,284.1Z" fill="#749bd9"/>
<path d="M424.8,284.1 426.5,286.4 637.3,286.4 637.3,16.3 364.8,16.3 364.8,203.1 378.4,221.8 394.3,243.3 407.9,261.6 423.8,282.8Z" fill="#769dd9"/>
<path d="M425.6,284.1 427.3,286.4 637.3,286.4 637.3,16.3 364.8,16.3 364.8,202 378.4,220.7 394.3,242.3 410.2,263.7 423.9,281.9Z" fill="#789fda"/>
<path d="M428,286.4 637.3,286.4 637.3,16.3 364.8,16.3 364.8,201 380.7,222.8 394.3,241.3 410.2,262.6 426.3,284.1Z" fill="#79a1db"/>
<path d="M427.1,284.1 428.8,286.4 637.3,286.4 637.3,16.3 364.8,16.3 364.8,199.9 380.7,221.8 396.6,243.3 410.2,261.6 426.1,282.8Z" fill="#7ba3dc"/>
<path d="M427.9,284.1 429.6,286.4 637.3,286.4 637.3,16.3 364.8,16.3 364.8,198.9 380.7,220.7 394.3,239.2 410.2,260.6 426.2,281.9Z" fill="#7ca5dc"/>
<path d="M430.3,286.4 637.3,286.4 637.3,16.3 364.8,16.3 364.8,197.8 380.7,219.7 396.6,241.3 412.5,262.6 428.6,284.1Z" fill="#7ea7dd"/>
<path d="M429.4,284.1 431.1,286.4 637.3,286.4 637.3,16.3 364.8,16.3 364.8,196.8 380.7,218.6 396.6,240.2 412.5,261.6 428.3,282.7Z" fill="#80a9de"/>
<path d="M430.2,284.1 431.9,286.4 637.3,286.4 637.3,16.3 364.8,16.3 364.8,195.7 380.7,217.6 396.6,239.2 412.5,260.6 428.5,281.9Z" fill="#81acde"/>
<path d="M432.6,286.4 637.3,286.4 637.3,16.3 364.8,16.3 364.8,194.7 380.7,216.6 398.8,241.3 414.7,262.6 430.9,284.1Z" fill="#83aedf"/>
<path d="M431.6,284.1 433.3,286.4 637.3,286.4 637.3,16.3 364.8,16.3 364.8,193.7 380.7,215.6 396.6,237.2 414.7,261.7 430.6,282.8Z" fill="#84b0df"/>
<path d="M432.3,284.1 434,286.4 637.3,286.4 637.3,16.3 364.8,16.3 364.8,192.7 380.7,214.6 398.8,239.3 414.7,260.7 430.6,281.9Z" fill="#86b2e0"/>
<path d="M434.8,286.4 637.3,286.4 637.3,16.3 364.8,16.3 364.8,191.8 382.9,216.8 398.8,238.4 414.7,259.7 433.1,284.1Z" fill="#88b4e1"/>
<path d="M433.8,284.1 435.5,286.4 637.3,286.4 637.3,16.3 364.8,16.3 364.8,190.8 380.7,212.7 398.8,237.4 417,261.8 432.9,282.9Z" fill="#89b6e1"/>
<path d="M434.5,284.1 436.2,286.4 637.3,286.4 637.3,16.3 364.8,16.3 364.8,189.8 380.7,211.7 398.8,236.4 414.7,257.8 432.9,282Z" fill="#8bb8e2"/>
<path d="M437,286.4 637.3,286.4 637.3,16.3 364.8,16.3 364.8,188.7 382.9,213.8 398.8,235.4 417,259.9 435.3,284.1Z" fill="#8cbae2"/>
<path d="M436,284.1 437.7,286.4 637.3,286.4 637.3,16.3 364.8,16.3 364.8,187.7 380.7,209.7 398.8,234.4 417,258.9 435.2,283Z" fill="#8ebce3"/>
<path d="M436.7,284.1 438.4,286.4 637.3,286.4 637.3,16.3 364.8,16.3 364.8,186.7 382.9,211.8 401.1,236.5 417,257.9 435.2,282Z" fill="#90bee3"/>
<path d="M439.2,286.4 637.3,286.4 637.3,16.3 364.8,16.3 364.8,185.7 380.7,207.6 398.8,232.4 417,256.9 437.5,284.1Z" fill="#91c0e4"/>
<path d="M438.2,284.1 439.9,286.4 637.3,286.4 637.3,16.3 364.8,16.3 364.8,184.7 382.9,209.7 401.1,234.5 419.3,258.9 437.4,283.1Z" fill="#93c2e4"/>
<path d="M439,284.1 440.7,286.4 637.3,286.4 637.3,16.3 364.8,16.3 364.8,183.6 380.7,205.6 398.8,230.4 417,254.9 437.4,282.1Z" fill="#94c4e5"/>
<path d="M441.4,286.4 637.3,286.4 637.3,16.3 364.8,16.3 364.8,182.6 382.9,207.7 401.1,232.5 419.3,256.9 439.7,284.1Z" fill="#96c6e5"/>
<path d="M440.5,284.1 442.2,286.4 637.3,286.4 637.3,16.3 364.8,16.3 364.8,181.6 385.2,209.8 403.4,234.5 421.5,259 439.7,283.1Z" fill="#98c8e6"/>
<path d="M441.4,284.1 443.1,286.4 637.3,286.4 637.3,16.3 364.8,16.3 364.8,180.3 382.9,205.4 401.1,230.2 419.3,254.7 439.7,281.9Z" fill="#99cae7"/>
<path d="M444.1,286.4 637.3,286.4 637.3,16.3 364.8,16.3 364.8,178.8 385.2,207.1 403.4,231.9 423.8,259.4 442.4,284.1Z" fill="#9acce7"/>
<path d="M443.5,284.1 445.2,286.4 637.3,286.4 637.3,16.3 364.8,16.3 364.8,177.4 385.2,205.7 403.4,230.5 421.5,255 442,282.1Z" fill="#9bcee8"/>
<path d="M446.2,286.4 637.3,286.4 637.3,16.3 364.8,16.3 364.8,176 385.2,204.3 405.6,232.2 426.1,259.7 444.5,284.1Z" fill="#9cd0e9"/>
<path d="M445.5,284.1 447.2,286.4 637.3,286.4 637.3,16.3 364.8,16.3 364.8,174.6 385.2,202.9 403.4,227.7 423.8,255.3 444.2,282.4Z" fill="#9cd2ea"/>
<path d="M448.3,286.4 637.3,286.4 637.3,16.3 364.8,16.3 364.8,173.1 385.2,201.5 405.6,229.4 426.1,256.9 446.6,284.1Z" fill="#9dd4ea"/>
<path d="M447.6,284.1 449.3,286.4 637.3,286.4 637.3,16.3 364.8,16.3 364.8,171.7 387.5,203.1 405.6,228 426.1,255.5 446.5,282.6Z" fill="#9ed6eb"/>
<path d="M448.7,284.1 450.4,286.4 637.3,286.4 637.3,16.3 364.8,16.3 364.8,170.2 385.2,198.6 403.4,223.4 426.1,254.1 447,281.9Z" fill="#9fd8ec"/>
<path d="M449.8,284.1 451.5,286.4 637.3,286.4 637.3,16.3 364.8,16.3 364.8,168.7 383,194.1 405.6,225.1 426.1,252.6 448.8,282.8Z" fill="#a0daed"/>
<path d="M450.8,284.1 452.6,286.4 637.3,286.4 637.3,16.3 364.8,16.3 364.8,167.2 385.7,196.3 403.8,221.1 417.1,239.1 428.3,254.2 449.1,281.9Z" fill="#a1dced"/>
<path d="M451.9,284.1 453.6,286.4 637.3,286.4 637.3,16.3 364.8,16.3 364.8,165.8 386.8,196.3 406.5,223.3 429.9,254.9 451.1,283Z" fill="#a2deee"/>
<path d="M453.1,284.1 454.8,286.4 637.3,286.4 637.3,16.3 364.8,16.3 364.8,164.2 384.6,191.8 407.6,223.3 428.3,251.3 451.4,281.9Z" fill="#a0e0ef"/>
<path d="M454.3,284.1 456,286.4 637.3,286.4 637.3,16.3 364.8,16.3 364.8,162.7 387.5,194.2 407.9,222.2 430.6,252.8 453.3,282.9Z" fill="#9ee2f0"/>
<path d="M455.4,284.1 457.1,286.4 637.3,286.4 637.3,16.3 364.8,16.3 364.8,161.1 385.2,189.6 407.9,220.6 430.6,251.2 453.7,281.9Z" fill="#9ce4f1"/>
<path d="M456.6,284.1 458.3,286.4 637.3,286.4 637.3,16.3 364.8,16.3 364.8,159.6 387.5,191.1 410.2,222.2 432.9,252.7 455.6,282.8Z" fill="#99e5f2"/>
<path d="M457.8,284.1 459.5,286.4 637.3,286.4 637.3,16.3 364.8,16.3 364.8,158 387.5,189.6 410.2,220.6 432.9,251.2 456.1,281.9Z" fill="#97e7f4"/>
<path d="M458.9,284.1 460.7,286.4 637.3,286.4 637.3,16.3 364.8,16.3 364.8,156.5 387.5,188.1 410.2,219.1 421.5,234.4 435.2,252.7 457.9,282.7Z" fill="#95e9f5"/>
<path d="M460.1,284.1 461.8,286.4 637.3,286.4 637.3,16.3 364.8,16.3 364.8,154.9 387.5,186.5 410.2,217.5 432.9,248.1 446.5,266.2 458.4,281.9Z" fill="#93ebf6"/>
<path d="M461.3,284.1 463,286.4 637.3,286.4 637.3,16.3 364.8,16.3 364.8,153.4 387.5,185 398.8,200.5 412.5,219.1 423.8,234.4 437.4,252.6 460.1,282.6Z" fill="#91ecf7"/>
<path d="M464.2,286.4 637.3,286.4 637.3,16.3 364.8,16.3 364.8,151.8 387.5,183.4 398.8,199 412.5,217.5 423.8,232.8 437.4,251 448.8,266.1 462.5,284.1Z" fill="#8feef8"/>
<path d="M463.7,284.1 465.4,286.4 637.3,286.4 637.3,16.3 364.8,16.3 364.8,150.3 378.4,169.3 389.7,185 412.5,216 426.1,234.3 437.4,249.5 448.8,264.5 462.4,282.4Z" fill="#8df0f9"/>
<path d="M466.6,286.4 637.3,286.4 637.3,16.3 364.8,16.3 364.8,148.7 387.5,180.3 401.1,199 412.5,214.4 423.8,229.7 437.4,247.9 451.1,266 464.9,284.1Z" fill="#8bf2fa"/>
<path d="M466.1,284.1 467.8,286.4 637.3,286.4 637.3,16.3 364.8,16.3 364.8,147.1 376.1,163 389.7,181.8 403.4,200.5 414.7,215.9 428.3,234.2 439.7,249.4 451.1,264.4 464.7,282.3Z" fill="#89f4fb"/>
<path d="M467.8,284.1 469.5,286.4 637.3,286.4 637.3,16.3 364.8,16.3 364.8,144.9 376.1,160.8 389.7,179.6 403.4,198.3 414.7,213.7 428.3,232 442,250.2 455.6,268.2 467,283Z" fill="#87f5fc"/>
<path d="M470.8,284.1 472.5,286.4 637.3,286.4 637.3,16.3 364.8,16.3 364.8,141 378.4,160 389.7,175.7 403.4,194.3 414.7,209.7 428.3,228.1 442,246.2 455.6,264.2 469.2,282.1Z" fill="#85f7fd"/>
<path d="M475.6,286.4 637.3,286.4 637.3,16.3 364.8,16.3 364.8,137 378.4,156 392,174.8 405.6,193.5 419.3,211.9 432.9,230.2 446.5,248.3 460.1,266.2 473.8,284.1Z" fill="#84f9fd"/>
<path d="M476.9,284.1 478.7,286.4 637.3,286.4 637.3,16.3 364.8,16.3 364.8,133 378.4,152 392,170.8 405.6,189.5 419.3,207.9 432.9,226.2 446.5,244.3 460.1,262.2 476,283Z" fill="#82fcfe"/>
<path d="M480.1,284.1 481.8,286.4 637.3,286.4 637.3,16.3 364.8,16.3 364.8,128.9 378.4,147.9 392,166.8 405.6,185.4 421.5,206.9 435.2,225.2 448.8,243.2 464.7,264.1 478.3,281.9Z" fill="#81feff"/>
<path d="M556.8,284.1 558.6,286.4 637.3,286.4 637.3,16.3 364.8,16.3 364.8,32.6 367,35.7 387.5,64.1 410.2,95 423.8,113.4 435.2,128.5 457.9,158.5 480.6,188 505.6,220 530.5,251.5 555.5,282.6Z" fill="#83fffe"/>
<path d="M557.3,284.1 559.1,286.4 637.3,286.4 637.3,16.3 364.8,16.3 364.8,32 369.3,38.4 392,69.7 412.5,97.5 435.2,128 457.9,157.9 480.6,187.5 505.6,219.5 528.3,248.1 541.9,265.1 555.5,282Z" fill="#85fffd"/>
<path d="M557.7,284.1 559.5,286.4 637.3,286.4 637.3,16.3 364.8,16.3 364.8,31.5 371.6,41 394.3,72.3 414.7,100 437.4,130.4 460.1,160.4 482.9,189.8 505.6,218.9 530.5,250.4 555.9,281.9Z" fill="#88fffd"/>
<path d="M560,286.4 637.3,286.4 637.3,16.3 364.8,16.3 364.8,30.9 378.4,49.8 401.1,81 421.5,108.6 444.2,138.9 467,168.7 489.7,198 512.4,227 535.1,255.5 558.2,284.1Z" fill="#8afffc"/>
<path d="M558.6,284.1 560.5,286.4 637.3,286.4 637.3,16.3 364.8,16.3 364.8,30.3 380.7,52.4 403.4,83.5 423.8,111.1 444.2,138.3 467,168.1 487.4,194.5 510.1,223.5 535.1,254.9 557.8,283.1Z" fill="#8cfefb"/>
<path d="M559.1,284.1 560.9,286.4 637.3,286.4 637.3,16.3 364.8,16.3 364.8,29.8 382.9,55 403.4,83 423.8,110.5 444.2,137.7 467,167.5 489.7,196.9 512.4,225.8 535.1,254.4 557.8,282.5Z" fill="#8efefa"/>
<path d="M559.6,284.1 561.4,286.4 637.3,286.4 637.3,16.3 364.8,16.3 364.8,29.2 385.2,57.5 405.6,85.5 426.1,113 446.5,140.2 469.2,169.9 489.7,196.3 512.4,225.2 535.1,253.8 557.8,281.9Z" fill="#90fefa"/>
<path d="M560.1,284.1 561.9,286.4 637.3,286.4 637.3,16.3 364.8,16.3 364.8,28.6 378.4,47.6 389.7,63.2 407.9,88 428.3,115.5 448.8,142.6 471.5,172.3 491.9,198.6 514.7,227.5 535.1,253.2 558.2,281.9Z" fill="#92fef9"/>
<path d="M560.5,284.1 562.4,286.4 637.3,286.4 637.3,16.3 364.8,16.3 364.8,28 378.4,47 392,65.8 410.2,90.5 430.6,117.9 451.1,145 473.8,174.7 494.2,201 516.9,229.8 537.4,255.5 560.1,283.6Z" fill="#95fef8"/>
<path d="M561,284.1 562.8,286.4 637.3,286.4 637.3,16.3 364.8,16.3 364.8,27.5 380.7,49.6 396.6,71.4 417,99.1 437.4,126.4 457.9,153.4 476,177 496.5,203.3 519.2,232.1 537.4,254.9 560.1,283Z" fill="#97fef8"/>
<path d="M561.5,284.1 563.3,286.4 637.3,286.4 637.3,16.3 364.8,16.3 364.8,26.9 382.9,52.1 401.1,77 419.3,101.6 439.7,128.9 460.1,155.8 478.3,179.4 498.8,205.6 519.2,231.5 539.6,257.1 560.1,282.4Z" fill="#99fef7"/>
<path d="M561.9,284.1 563.8,286.4 637.3,286.4 637.3,16.3 364.8,16.3 364.8,26.3 385.2,54.7 403.4,79.5 421.5,104 442,131.3 460.1,155.2 478.3,178.8 498.8,205 516.9,228.1 539.6,256.5 560.1,281.9Z" fill="#9bfef6"/>
<path d="M564.3,286.4 637.3,286.4 637.3,16.3 364.8,16.3 364.8,25.7 385.2,54.1 407.9,85.1 426.1,109.5 444.2,133.7 464.7,160.5 482.9,184.1 501,207.3 521.5,233.2 541.9,258.8 562.4,284.1Z" fill="#9dfef5"/>
<path d="M562.9,284.1 564.7,286.4 637.3,286.4 637.3,16.3 364.8,16.3 364.8,25.2 387.5,56.6 410.2,87.6 428.3,112 446.5,136.1 467,162.9 485.1,186.4 503.3,209.7 521.5,232.6 541.9,258.2 562.3,283.4Z" fill="#9ffef5"/>
<path d="M563.4,284.1 565.2,286.4 637.3,286.4 637.3,16.3 364.8,16.3 364.8,24.6 378.4,43.5 389.7,59.2 401.1,74.7 414.7,93.1 432.9,117.5 451.1,141.5 469.2,165.3 487.4,188.7 505.6,212 523.7,234.9 541.9,257.6 562.3,282.8Z" fill="#a2fef4"/>
<path d="M563.9,284.1 565.7,286.4 637.3,286.4 637.3,16.3 364.8,16.3 364.8,24 378.4,42.9 389.7,58.6 403.4,77.2 417,95.6 435.2,119.9 451.1,140.9 469.2,164.7 487.4,188.2 505.6,211.4 523.7,234.3 541.9,257 562.3,282.3Z" fill="#a4fdf3"/>
<path d="M564.3,284.1 566.2,286.4 637.3,286.4 637.3,16.3 364.8,16.3 364.8,23.4 378.4,42.4 392,61.1 405.6,79.7 419.3,98.1 435.2,119.3 451.1,140.3 469.2,164.1 487.4,187.6 507.8,213.7 526,236.6 544.2,259.2 562.5,281.9Z" fill="#a6fdf3"/>
<path d="M566.7,286.4 637.3,286.4 637.3,16.3 364.8,16.3 364.8,22.8 378.4,41.8 394.3,63.6 407.9,82.2 423.8,103.6 439.7,124.8 457.9,148.7 473.8,169.4 491.9,192.8 510.1,215.9 528.3,238.8 546.4,261.5 564.8,284.1Z" fill="#a8fdf2"/>
<path d="M565.3,284.1 567.2,286.4 637.3,286.4 637.3,16.3 364.8,16.3 364.8,22.2 380.7,44.3 396.6,66.1 412.5,87.7 428.3,109.1 446.5,133.2 462.4,154 480.6,177.6 496.5,198 514.7,221.1 530.5,241.1 548.7,263.7 564.6,283.3Z" fill="#aafdf1"/>
<path d="M565.8,284.1 567.6,286.4 637.3,286.4 637.3,16.3 364.8,16.3 364.8,21.6 380.7,43.7 396.6,65.6 414.7,90.2 430.6,111.5 446.5,132.6 462.4,153.4 478.3,174.1 496.5,197.4 514.7,220.5 530.5,240.5 548.7,263.1 564.6,282.7Z" fill="#acfdf1"/>
<path d="M566.3,284.1 568.1,286.4 637.3,286.4 637.3,16.3 364.8,16.3 364.8,21.1 380.7,43.1 398.8,68.1 417,92.7 435.2,117 451.1,138 464.7,155.8 480.6,176.4 498.8,199.7 514.7,219.9 530.5,239.9 546.4,259.7 564.6,282.1Z" fill="#affdf0"/>
<path d="M566.8,284.1 568.6,286.4 637.3,286.4 637.3,16.3 364.8,16.3 364.8,20.5 382.9,45.7 401.1,70.6 419.3,95.1 437.4,119.4 453.3,140.4 467,158.2 482.9,178.8 498.8,199.1 514.7,219.3 530.5,239.3 548.7,261.9 564.9,281.9Z" fill="#b1fdef"/>
<path d="M569.1,286.4 637.3,286.4 637.3,16.3 364.8,16.3 364.8,19.9 382.9,45.1 403.4,73.1 421.5,97.6 442,124.8 455.6,142.7 471.5,163.5 487.4,184 503.3,204.3 516.9,221.6 532.8,241.5 551,264.1 567.3,284.1Z" fill="#b3fdee"/>
<path d="M567.8,284.1 569.6,286.4 637.3,286.4 637.3,16.3 364.8,16.3 364.8,19.3 367,22.5 385.2,47.6 403.4,72.5 423.8,100 444.2,127.2 457.9,145.1 473.8,165.8 487.4,183.4 503.3,203.7 519.2,223.8 535.1,243.8 551,263.5 566.9,283Z" fill="#b5fdee"/>
<path d="M568.3,284.1 570.1,286.4 637.3,286.4 637.3,16.3 364.8,16.3 364.8,18.7 380.7,40.8 398.8,65.7 417,90.3 432.9,111.6 451.1,135.6 464.7,153.4 480.6,174 494.2,191.5 507.8,208.9 521.5,226.1 537.4,246 553.3,265.7 566.9,282.4Z" fill="#b7fded"/>
<path d="M568.8,284.1 570.6,286.4 637.3,286.4 637.3,16.3 364.8,16.3 364.8,18.1 387.5,49.5 401.1,68.2 419.3,92.7 437.4,117 453.3,138 467,155.8 480.6,173.4 494.2,190.9 507.8,208.3 521.5,225.5 537.4,245.4 551,262.3 566.9,281.9Z" fill="#bafcec"/>
<path d="M571.1,286.4 637.3,286.4 637.3,16.3 364.8,16.3 364.8,17.5 380.7,39.6 396.6,61.4 410.2,79.9 426.1,101.3 442,122.4 455.6,140.3 469.2,158.1 482.9,175.7 496.5,193.2 510.1,210.5 523.7,227.7 539.6,247.6 553.3,264.5 569.3,284.1Z" fill="#bcfcec"/>
<path d="M569.8,284.1 571.6,286.4 637.3,286.4 637.3,16.3 364.8,16.3 364.8,16.9 369.3,23.2 385.2,45.2 403.4,70.1 417,88.5 430.6,106.7 444.2,124.8 460.1,145.7 471.5,160.5 487.4,181 501,198.4 514.7,215.7 528.3,232.8 541.9,249.8 553.3,263.9 569.2,283.4Z" fill="#befceb"/>
<path d="M570.3,284.1 572.1,286.4 637.3,286.4 637.3,16.3 364.8,16.3 387.5,47.7 398.8,63.3 412.5,81.7 423.8,97 437.4,115.2 451.1,133.2 464.7,151 489.7,183.3 503.3,200.7 516.9,217.9 530.5,235 544.2,252 569.2,282.8Z" fill="#c0fcea"/>
<path d="M570.8,284.1 572.6,286.4 637.3,286.4 637.3,16.3 365.2,16.3 378.4,34.6 389.7,50.2 412.5,81.1 426.1,99.4 437.4,114.6 448.8,129.6 462.4,147.4 476,165.1 489.7,182.7 514.7,214.5 539.6,245.8 555.5,265.4 569.2,282.2Z" fill="#c2fcea"/>
<path d="M571.3,284.1 573.1,286.4 637.3,286.4 637.3,16.3 365.6,16.3 378.4,34 389.7,49.6 403.4,68.2 414.7,83.6 428.3,101.9 439.7,117 462.4,146.8 476,164.5 489.7,182.1 501,196.6 516.9,216.7 541.9,248 555.5,264.8 569.4,281.9Z" fill="#c4fce9"/>
<path d="M573.6,286.4 637.3,286.4 637.3,16.3 366.1,16.3 380.7,36.5 392,52.1 414.7,83 428.3,101.3 439.7,116.3 451.1,131.3 464.7,149.2 478.3,166.8 491.9,184.4 505.6,201.7 519.2,219 544.2,250.2 557.8,267 571.8,284.1Z" fill="#c7fce8"/>
<path d="M572.3,284.1 574.1,286.4 637.3,286.4 637.3,16.3 366.5,16.3 378.4,32.8 392,51.5 405.6,70.1 417,85.4 430.6,103.7 442,118.7 453.3,133.7 467,151.5 480.6,169.2 494.2,186.6 519.2,218.3 532.8,235.4 546.4,252.4 571.4,283.1Z" fill="#c9fce7"/>
<path d="M572.8,284.1 574.6,286.4 637.3,286.4 637.3,16.3 366.9,16.3 389.7,47.8 401.1,63.3 414.7,81.8 426.1,97 439.7,115.1 453.3,133.1 467,150.9 491.9,183.1 516.9,214.9 541.9,246.1 557.8,265.8 571.4,282.5Z" fill="#cbfce7"/>
<path d="M573.3,284.1 575.1,286.4 637.3,286.4 637.3,16.3 367.4,16.3 380.7,34.7 392,50.3 414.7,81.1 428.3,99.4 439.7,114.5 451.1,129.5 464.7,147.3 478.3,165 491.9,182.5 516.9,214.2 530.5,231.3 544.2,248.3 557.8,265.1 571.4,281.9Z" fill="#cdfce6"/>
<path d="M575.7,286.4 637.3,286.4 637.3,16.3 367.8,16.3 380.7,34.1 392,49.7 405.6,68.2 417,83.6 430.6,101.8 442,116.9 453.3,131.8 467,149.6 480.6,167.3 494.2,184.8 519.2,216.5 532.8,233.6 546.4,250.5 560.1,267.3 573.8,284.1Z" fill="#cffce5"/>
<path d="M574.3,284.1 576.2,286.4 637.3,286.4 637.3,16.3 368.3,16.3 382.9,36.6 394.3,52.2 417,83 439.7,113.3 453.3,131.2 467,149 480.6,166.7 494.2,184.2 505.6,198.6 521.5,218.7 535.1,235.8 548.7,252.7 573.7,283.4Z" fill="#d1fbe5"/>
<path d="M574.8,284.1 576.7,286.4 637.3,286.4 637.3,16.3 368.7,16.3 380.7,32.8 394.3,51.6 407.9,70.1 419.3,85.4 432.9,103.6 444.2,118.6 455.6,133.6 469.2,151.4 494.2,183.5 507.8,200.9 521.5,218.1 532.8,232.3 548.7,252.1 573.7,282.7Z" fill="#d4fbe4"/>
<path d="M575.4,284.1 577.2,286.4 637.3,286.4 637.3,16.3 369.2,16.3 392,47.8 403.4,63.3 417,81.7 428.3,96.9 442,115 455.6,133 469.2,150.7 494.2,182.9 519.2,214.6 544.2,245.8 560.1,265.4 573.7,282.1Z" fill="#d6fbe3"/>
<path d="M575.9,284.1 577.7,286.4 637.3,286.4 637.3,16.3 369.6,16.3 382.9,34.7 394.3,50.3 417,81.1 430.6,99.3 442,114.4 453.3,129.3 467,147.1 480.6,164.8 494.2,182.3 519.2,214 532.8,231 546.4,248 560.1,264.8 574,281.9Z" fill="#d8fbe2"/>
<path d="M578.2,286.4 637.3,286.4 637.3,16.3 370.1,16.3 382.9,34.1 394.3,49.7 407.9,68.2 419.3,83.5 432.9,101.7 446.5,119.8 469.2,149.5 482.9,167.1 496.5,184.5 521.5,216.2 535.1,233.2 548.7,250.2 562.3,266.9 576.4,284.1Z" fill="#dafbe2"/>
<path d="M576.9,284.1 578.8,286.4 637.3,286.4 637.3,16.3 370.5,16.3 385.2,36.6 396.6,52.1 419.3,82.9 442,113.1 455.6,131.1 469.2,148.8 494.2,181 507.8,198.4 521.5,215.6 535.1,232.6 548.7,249.5 562.3,266.3 576,283Z" fill="#dcfbe1"/>
<path d="M577.4,284.1 579.3,286.4 637.3,286.4 637.3,16.3 371,16.3 380.7,29.7 394.3,48.4 405.6,63.9 419.3,82.2 430.6,97.4 444.2,115.5 457.9,133.4 471.5,151.1 496.5,183.3 521.5,214.9 546.4,246.1 562.3,265.7 576,282.3Z" fill="#defbe0"/>
<path d="M578,284.1 579.8,286.4 637.3,286.4 637.3,16.3 371.4,16.3 394.3,47.8 405.6,63.2 419.3,81.6 432.9,99.8 444.2,114.9 457.9,132.8 469.2,147.6 482.9,165.2 496.5,182.6 521.5,214.3 535.1,231.3 548.7,248.2 562.3,265 576.1,281.9Z" fill="#e1fbe0"/>
<path d="M580.4,286.4 637.3,286.4 637.3,16.3 371.9,16.3 385.2,34.7 396.6,50.2 407.9,65.7 421.5,84 432.9,99.2 446.5,117.2 460.1,135.1 471.5,149.9 485.1,167.5 498.8,184.9 523.7,216.5 537.4,233.5 551,250.4 564.6,267.2 578.5,284.1Z" fill="#e3fbdf"/>
<path d="M579,284.1 580.9,286.4 637.3,286.4 637.3,16.3 372.3,16.3 385.2,34.1 396.6,49.6 410.2,68.1 421.5,83.4 435.2,101.6 446.5,116.6 457.9,131.5 471.5,149.2 485.1,166.8 498.8,184.3 510.1,198.7 526,218.7 539.6,235.7 553.3,252.6 578.2,283.2Z" fill="#e5fbde"/>
<path d="M579.6,284.1 581.4,286.4 637.3,286.4 637.3,16.3 372.8,16.3 387.5,36.5 398.8,52.1 412.5,70.5 423.8,85.8 437.4,103.9 448.8,118.9 460.1,133.8 473.8,151.5 498.8,183.6 512.4,200.9 526,218 539.6,235.1 553.3,251.9 578.2,282.5Z" fill="#e7fade"/>
<path d="M580.1,284.1 582,286.4 637.3,286.4 637.3,16.3 373.3,16.3 382.9,29.7 396.6,48.3 407.9,63.8 421.5,82.1 432.9,97.3 446.5,115.3 460.1,133.2 473.8,150.9 498.8,183 523.7,214.5 539.6,234.4 551,248.5 578.2,281.9Z" fill="#e9fadd"/>
<path d="M582.5,286.4 637.3,286.4 637.3,16.3 373.7,16.3 396.6,47.7 410.2,66.2 421.5,81.5 435.2,99.6 448.8,117.6 462.4,135.5 473.8,150.2 485.1,164.9 501,185.2 526,216.7 539.6,233.7 553.3,250.6 566.9,267.4 580.6,284.1Z" fill="#ebfadc"/>
<path d="M581.2,284.1 583,286.4 637.3,286.4 637.3,16.3 374.2,16.3 387.5,34.6 398.8,50.1 410.2,65.5 423.8,83.8 437.4,102 451.1,120 473.8,149.6 487.4,167.1 503.3,187.4 528.3,218.9 541.9,235.9 555.5,252.8 580.5,283.3Z" fill="#eefadb"/>
<path d="M581.7,284.1 583.6,286.4 637.3,286.4 637.3,16.3 374.6,16.3 387.5,34 401.1,52.6 412.5,67.9 426.1,86.2 439.7,104.3 451.1,119.3 473.8,148.9 498.8,181 523.7,212.6 539.6,232.4 551,246.5 566.9,266 580.5,282.6Z" fill="#f0fadb"/>
<path d="M582.3,284.1 584.1,286.4 637.3,286.4 637.3,16.3 375.1,16.3 387.5,33.3 401.1,51.9 414.7,70.4 426.1,85.6 448.8,115.7 462.4,133.5 476,151.2 498.9,180.6 514.7,200.5 526,214.8 551,245.9 566.9,265.4 580.5,282Z" fill="#f2fada"/>
<path d="M583.9,284.1 585.8,286.4 637.3,286.4 637.3,16.3 376.5,16.3 389.7,34.5 401.1,50 412.5,65.3 426.1,83.6 437.4,98.7 451.1,116.7 476,149.2 501,181.2 514.7,198.5 528.3,215.6 541.9,232.6 555.5,249.5 569.2,266.2 582.8,282.8Z" fill="#f0fad8"/>
<path d="M585.5,284.1 587.4,286.4 637.3,286.4 637.3,16.3 377.9,16.3 401.1,48 412.5,63.4 426.1,81.6 439.7,99.7 451.1,114.7 464.7,132.5 478.3,150.1 503.3,182.1 516.9,199.4 530.5,216.5 544.2,233.4 557.8,250.3 571.4,267 585.1,283.5Z" fill="#eefad7"/>
<path d="M587.2,284.1 589,286.4 637.3,286.4 637.3,16.3 379.3,16.3 392,33.7 403.4,49.1 414.7,64.4 428.3,82.7 439.7,97.7 453.3,115.7 478.3,148.1 503.3,180.1 516.9,197.4 530.5,214.5 544.2,231.4 557.8,248.3 571.4,265 585.3,281.9Z" fill="#ecfad5"/>
<path d="M588.8,284.1 590.7,286.4 637.3,286.4 637.3,16.3 380.7,16.3 392,31.7 405.6,50.2 417,65.5 430.6,83.7 455.6,116.6 480.6,149.1 505.6,181 519.2,198.2 532.8,215.3 546.4,232.2 560.1,249 587.3,282.3Z" fill="#e9fad4"/>
<path d="M590.5,284.1 592.4,286.4 637.3,286.4 637.3,16.3 382.2,16.3 405.6,48.2 417,63.5 430.6,81.7 444.2,99.7 457.9,117.6 482.9,150 496.5,167.4 510.1,184.7 535.1,216.1 548.7,233 562.3,249.8 589.6,283Z" fill="#e7fad2"/>
<path d="M594,286.4 637.3,286.4 637.3,16.3 383.6,16.3 396.6,34 407.9,49.3 421.5,67.6 432.9,82.7 457.9,115.6 471.5,133.3 485.1,150.9 510.1,182.7 523.7,199.9 537.4,216.9 564.6,250.6 592.2,284.1Z" fill="#e5fad0"/>
<path d="M593.8,284.1 595.7,286.4 637.3,286.4 637.3,16.3 385,16.3 396.6,32 410.2,50.4 435.2,83.7 460.1,116.5 485.1,148.8 510.1,180.7 523.7,197.8 537.4,214.9 564.6,248.6 592,281.9Z" fill="#e3facf"/>
<path d="M595.2,284.1 597.1,286.4 637.3,286.4 637.3,16.3 386.2,16.3 410.2,48.7 435.2,82 448.8,100 462.4,117.8 487.4,150 501,167.4 514.7,184.7 541.9,218.8 569.2,252.4 594.1,282.8Z" fill="#e1facd"/>
<path d="M596.4,284.1 598.2,286.4 637.3,286.4 637.3,16.3 387.2,16.3 398.8,32.1 412.5,50.4 437.4,83.7 462.4,116.4 487.4,148.7 512.4,180.5 539.6,214.6 566.9,248.3 594.5,281.9Z" fill="#dffacb"/>
<path d="M597.5,284.1 599.4,286.4 637.3,286.4 637.3,16.3 388.2,16.3 412.5,49.1 437.4,82.3 462.4,115.1 476,132.7 489.7,150.2 503.3,167.6 516.9,184.8 544.2,218.9 571.4,252.5 596.4,282.8Z" fill="#ddfaca"/>
<path d="M598.6,284.1 600.5,286.4 637.3,286.4 637.3,16.3 389.1,16.3 412.5,47.8 426.1,65.9 439.7,84 464.7,116.6 489.7,148.8 514.7,180.6 541.9,214.7 569.2,248.3 596.8,281.9Z" fill="#dbfac8"/>
<path d="M599.8,284.1 601.7,286.4 637.3,286.4 637.3,16.3 390.1,16.3 414.7,49.4 439.7,82.6 464.7,115.3 478.3,132.9 491.9,150.3 503.3,164.8 519.2,184.9 546.4,218.9 573.7,252.5 598.7,282.8Z" fill="#d9fac6"/>
<path d="M600.9,284.1 602.8,286.4 637.3,286.4 637.3,16.3 391.1,16.3 414.7,48.1 439.7,81.2 464.7,113.9 478.3,131.5 491.9,148.9 516.9,180.6 544.2,214.7 571.4,248.3 599.1,281.9Z" fill="#d7fac5"/>
<path d="M602.1,284.1 604,286.4 637.3,286.4 637.3,16.3 392.1,16.3 417,49.7 430.6,67.8 444.2,85.8 467,115.4 480.6,133 494.2,150.4 505.6,164.9 521.5,184.9 548.7,218.9 576,252.4 601,282.7Z" fill="#d5fbc3"/>
<path d="M605.2,286.4 637.3,286.4 637.3,16.3 393.1,16.3 417,48.3 442,81.4 455.6,99.2 469.2,116.9 494.2,149 519.2,180.6 546.4,214.7 573.7,248.2 589.6,267.6 603.3,284.1Z" fill="#d3fbc1"/>
<path d="M604.5,284.1 606.4,286.4 637.3,286.4 637.3,16.3 394.1,16.3 419.3,50 432.9,68 446.5,86 469.2,115.5 482.9,133.1 496.5,150.5 523.7,184.9 551,218.9 578.2,252.3 603.2,282.6Z" fill="#d1fbc0"/>
<path d="M607.5,286.4 637.3,286.4 637.3,16.3 395.2,16.3 417,45.6 430.6,63.6 444.2,81.6 457.9,99.4 471.5,117 496.5,149 521.5,180.6 548.7,214.6 576,248.1 605.7,284.1Z" fill="#cffbbe"/>
<path d="M606.9,284.1 608.8,286.4 637.3,286.4 637.3,16.3 396.2,16.3 421.5,50.2 435.2,68.2 448.8,86.1 471.5,115.6 485.1,133.1 498.8,150.5 526,184.8 553.3,218.8 580.5,252.2 605.5,282.4Z" fill="#cdfbbc"/>
<path d="M610,286.4 637.3,286.4 637.3,16.3 397.3,16.3 419.3,45.7 432.9,63.8 446.5,81.6 460.1,99.4 473.8,117 498.8,149 523.7,180.5 551,214.5 578.2,247.9 591.9,264.5 608.1,284.1Z" fill="#cafbbb"/>
<path d="M609.5,284.1 611.4,286.4 637.3,286.4 637.3,16.3 398.4,16.3 423.8,50.1 446.5,80 460.1,97.7 473.8,115.4 498.8,147.3 523.7,178.8 551,212.8 578.2,246.3 607.8,282Z" fill="#c8fbb9"/>
<path d="M610.9,284.1 612.8,286.4 637.3,286.4 637.3,16.3 399.7,16.3 423.8,48.5 435.2,63.4 451.1,84.3 464.7,101.9 478.3,119.5 503.3,151.4 528.3,182.8 555.5,216.7 582.8,250.1 610,283.1Z" fill="#c6fbb7"/>
<path d="M614.2,286.4 637.3,286.4 637.3,16.3 400.9,16.3 426.1,49.8 448.8,79.6 462.4,97.3 476,114.9 501,146.8 526,178.3 553.3,212.2 582.8,248.4 612.4,284.1Z" fill="#c4fbb5"/>
<path d="M613.8,284.1 615.7,286.4 637.3,286.4 637.3,16.3 402.1,16.3 426.1,48.1 439.7,66 453.3,83.8 469.2,104.4 482.9,121.9 507.8,153.6 532.8,185 560.1,218.8 589.6,254.9 612.3,282.3Z" fill="#c2fbb3"/>
<path d="M615.3,284.1 617.2,286.4 637.3,286.4 637.3,16.3 403.4,16.3 417,34.4 430.6,52.3 453.3,82 467,99.7 480.6,117.2 505.6,149 530.5,180.4 557.8,214.2 587.3,250.3 614.6,283.2Z" fill="#bffbb1"/>
<path d="M616.8,284.1 618.7,286.4 637.3,286.4 637.3,16.3 404.7,16.3 428.3,47.6 442,65.5 457.9,86.1 480.6,115.4 505.6,147.2 530.5,178.6 557.8,212.4 585.1,245.7 615,281.9Z" fill="#bdfbaf"/>
<path d="M618.4,284.1 620.3,286.4 637.3,286.4 637.3,16.3 406,16.3 428.3,45.8 455.6,81.4 480.6,113.6 494.2,130.9 510.1,151.1 537.4,185.2 564.6,218.9 594.1,254.9 616.9,282.3Z" fill="#bbfbad"/>
<path d="M620,284.1 621.8,286.4 637.3,286.4 637.3,16.3 407.4,16.3 432.9,49.9 455.6,79.5 469.2,97.1 485.1,117.5 510.1,149.2 535.1,180.5 562.3,214.2 591.9,250.3 619.1,283.1Z" fill="#b9fbab"/>
<path d="M623.5,286.4 637.3,286.4 637.3,16.3 408.8,16.3 432.9,48 446.5,65.8 462.4,86.4 476,103.9 491.9,124.2 516.9,155.8 544.2,189.8 571.4,223.4 601,259.3 621.6,284.1Z" fill="#b7fba9"/>
<path d="M623.3,284.1 625.2,286.4 637.3,286.4 637.3,16.3 410.2,16.3 437.4,52.1 460.1,81.5 476,102 489.7,119.4 514.7,151 541.9,185 569.2,218.6 598.7,254.5 621.4,281.9Z" fill="#b5fba8"/>
<path d="M625.4,284.1 627.3,286.4 637.3,286.4 637.3,16.3 412.1,16.3 437.4,49.6 462.4,82 476,99.5 491.9,119.8 516.9,151.3 544.2,185.3 571.4,218.8 601,254.8 623.7,282.1Z" fill="#b3fba6"/>
<path d="M627.6,284.1 629.5,286.4 637.3,286.4 637.3,16.3 414,16.3 439.7,50 462.4,79.4 478.3,99.8 491.9,117.1 519.2,151.5 544.2,182.6 573.7,219 603.2,254.8 625.9,282.1Z" fill="#b0fba5"/>
<path d="M629.9,284.1 631.8,286.4 637.3,286.4 637.3,16.3 415.9,16.3 442,50.3 464.7,79.6 478.3,97.1 494.2,117.3 519.2,148.8 546.4,182.7 576,219 605.5,254.8 628.2,282.1Z" fill="#aefba3"/>
<path d="M632.4,284.1 634.3,286.4 637.3,286.4 637.3,16.3 418.1,16.3 428.3,29.8 444.2,50.4 457.9,68 473.8,88.4 498.8,120.1 523.7,151.5 551,185.4 578.2,218.8 598.7,243.6 630.5,281.9Z" fill="#acfca1"/>
<path d="M636.9,286.4 637.3,286.4 637.3,16.3 420.3,16.3 444.2,47.4 460.1,67.9 476,88.3 501,119.9 526,151.2 553.3,185 580.5,218.4 610,254.2 635,284.1Z" fill="#aafca0"/>
<path d="M635.9,281.9 637.3,283.5 637.3,16.3 422.7,16.3 448.8,50.1 473.8,82.2 503.3,119.6 528.3,150.8 555.5,184.5 580.5,215.1 607.8,248.2 635,280.8Z" fill="#a8fc9e"/>
<path d="M636.8,279.6 637.3,280.2 637.3,16.3 425.1,16.3 451.1,49.9 476,81.8 501,113.4 526,144.7 553.3,178.4 580.5,211.8 607.8,244.8 635,277.5Z" fill="#a6fc9d"/>
<path d="M635.9,275.1 637.3,276.7 637.3,16.3 427.6,16.3 453.3,49.5 478.3,81.4 503.3,112.9 530.5,146.9 557.8,180.6 582.8,211.1 607.8,241.4 635,274Z" fill="#a4fc9b"/>
<path d="M636.5,268.4 637.3,269.4 637.3,16.3 432.9,16.3 455.6,45.4 480.6,77.1 505.6,108.6 532.8,142.5 557.8,173.3 580.5,201 610,236.7 635,266.6Z" fill="#a2fc99"/>
<path d="M637.3,261.6 637.3,16.3 438.5,16.3 460.1,43.9 485.1,75.5 507.8,103.9 535.1,137.7 562.3,171.2 585.1,198.9 610,229 635.4,259.4Z" fill="#a0fb98"/>
<path d="M636.5,252.6 637.3,253.6 637.3,16.3 444.3,16.3 469.2,47.8 494.2,79.2 516.9,107.4 539.6,135.4 564.6,166 589.6,196.3 610,221 635,250.9Z" fill="#9efb96"/>
<path d="M636.3,243.6 637.3,244.8 637.3,16.3 450.7,16.3 473.8,45.3 494.2,70.8 519.2,101.7 539.6,126.8 564.6,157.3 587.3,184.9 610,212.2 635,242.1Z" fill="#9cfb95"/>
<path d="M635.6,232.3 637.3,234.3 637.3,16.3 458.3,16.3 478.3,41.2 503.3,72.1 523.7,97.3 544.2,122.3 564.6,147.1 589.6,177.3 614.6,207.3 635,231.6Z" fill="#9afa93"/>
<path d="M635.4,221.1 637.3,223.3 637.3,16.3 466.4,16.3 489.7,45 510.1,70.1 530.5,95 551,119.9 571.4,144.6 591.9,169.2 614.6,196.3 635,220.6Z" fill="#98f991"/>
<path d="M635.7,209.8 637.3,211.7 637.3,16.3 475,16.3 510.1,59.2 551,108.7 594.1,160.5 635,209.1Z" fill="#96f78f"/>
<path d="M636.5,198.6 637.3,199.6 637.3,16.3 484.1,16.3 521.5,61.5 560.1,107.9 596.4,151.2 635,196.9Z" fill="#95f68d"/>
<path d="M636.8,189.6 637.3,190.2 637.3,16.3 491.1,16.3 528.3,60.9 562.3,101.6 598.7,144.7 635,187.5Z" fill="#93f58b"/>
<path d="M636.1,180.6 637.3,182 637.3,16.3 497.3,16.3 532.8,58.7 566.9,99.1 603.2,142 635,179.4Z" fill="#91f489"/>
<path d="M635.5,171.6 637.3,173.7 637.3,16.3 503.6,16.3 537.4,56.3 569.2,93.8 601,131.2 635,171.1Z" fill="#90f387"/>
<path d="M636.9,164.8 637.3,165.3 637.3,16.3 510.1,16.3 571.4,88.3 635,162.6Z" fill="#8ef185"/>
<path d="M636.5,155.8 637.3,156.7 637.3,16.3 516.7,16.3 576,85.5 635,154.1Z" fill="#8df082"/>
<path d="M636.1,146.8 637.3,148.2 637.3,16.3 523.4,16.3 580.5,82.5 635,145.6Z" fill="#8bef80"/>
<path d="M635.7,137.8 637.3,139.7 637.3,16.3 530.1,16.3 635,137.1Z" fill="#89ee7e"/>
<path d="M637.1,131.1 637.3,131.2 637.3,16.3 536.8,16.3 635.2,128.8Z" fill="#88ec7c"/>
<path d="M636.6,122.1 637.3,122.8 637.3,16.3 543.8,16.3 635,120.2Z" fill="#86eb7a"/>
<path d="M636,108.6 637.3,110 637.3,16.3 554.8,16.3 635,107.4Z" fill="#85ea78"/>
<path d="M636.2,95.1 637.3,96.3 637.3,16.3 566.7,16.3 635,93.7Z" fill="#83e876"/>
<path d="M636.8,81.6 637.3,82.1 637.3,16.3 579,16.3 635,79.5Z" fill="#81e774"/>
<path d="M636,65.8 637.3,67.3 637.3,16.3 592,16.3 635,64.7Z" fill="#80e572"/>
<path d="M635.8,50 637.3,51.7 637.3,16.3 605.7,16.3 635,49.2Z" fill="#7ee470"/>
<path d="M636.6,34.3 637.3,35.1 637.3,16.3 620.5,16.3 635,32.5Z" fill="#7ce26e"/>
<path d="M636.6,16.3 637.3,17 637.3,16.3Z" fill="#7be16c"/></g>
<g fill="none" stroke="rgba(50,90,170,0.48)" stroke-width="0.45"><path d="M364.8,165.9 386.6,196.3 407.9,225.4"/>
<path d="M414.7,234.7 432.9,259.1 453.5,286.4"/>
<path d="M364.8,96.2 382.9,121.5 398,142.3"/>
<path d="M403,149.1 426.1,180.3 439.7,198.5 453.3,216.5 467,234.4 480.6,252.1 494.2,269.7 507.3,286.4"/>
<path d="M375.1,16.3 394.3,42.6 414.7,70.4 435.2,97.7 455.6,124.6 476,151.2 498.8,180.4 523.7,211.9 544.5,237.8"/>
<path d="M548,242.2 566.9,265.4 584.1,286.4"/>
<path d="M540.6,16.3 582,63.5"/>
<path d="M586,68.1 637.3,126.6"/></g>
<path fill="#fff" fill-rule="evenodd" d="M361.9,13.4 H640.1 V289.2 H361.9 Z M367.95,19.45 H634.1 V283.2 H367.95 Z"/>
<text x="583.9" y="66.2" font-size="5.25" text-anchor="middle" fill="#0a0a0a" class="cl" transform="rotate(48 583.9 66.2)" dy="0.35em">5</text>
<text x="546.7" y="239.5" font-size="5.25" text-anchor="middle" fill="#0a0a0a" class="cl" transform="rotate(52 546.7 239.5)" dy="0.35em">0</text>
<text x="399.9" y="146.1" font-size="5.25" text-anchor="middle" fill="#0a0a0a" class="cl" transform="rotate(53 399.9 146.1)" dy="0.35em">−5</text>
<text x="411.2" y="230.1" font-size="5.25" text-anchor="middle" fill="#0a0a0a" class="cl" transform="rotate(54 411.2 230.1)" dy="0.35em">−10</text>
<path d="M367.7,19.45 V283.45 H634.1" fill="none" stroke="#888" stroke-width="0.5"/>
<path d="M368.05,283.7 v2.3M367.45,283.2 h-2.3M394.67,283.7 v2.3M367.45,256.82 h-2.3M421.28,283.7 v2.3M367.45,230.45 h-2.3M447.89,283.7 v2.3M367.45,204.07 h-2.3M474.51,283.7 v2.3M367.45,177.7 h-2.3M501.12,283.7 v2.3M367.45,151.32 h-2.3M527.74,283.7 v2.3M367.45,124.95 h-2.3M554.36,283.7 v2.3M367.45,98.57 h-2.3M580.97,283.7 v2.3M367.45,72.2 h-2.3M607.59,283.7 v2.3M367.45,45.82 h-2.3M634.2,283.7 v2.3M367.45,19.45 h-2.3" stroke="#444" stroke-width="0.5" fill="none"/>
<text x="367.9" y="292.4" font-size="5.25" text-anchor="middle">0.0</text>
<text x="363.8" y="285.4" font-size="5.25" text-anchor="end">0.0</text>
<text x="394.6" y="292.4" font-size="5.25" text-anchor="middle">0.1</text>
<text x="363.8" y="259" font-size="5.25" text-anchor="end">0.1</text>
<text x="421.2" y="292.4" font-size="5.25" text-anchor="middle">0.2</text>
<text x="363.8" y="232.6" font-size="5.25" text-anchor="end">0.2</text>
<text x="447.8" y="292.4" font-size="5.25" text-anchor="middle">0.3</text>
<text x="363.8" y="206.3" font-size="5.25" text-anchor="end">0.3</text>
<text x="474.4" y="292.4" font-size="5.25" text-anchor="middle">0.4</text>
<text x="363.8" y="179.9" font-size="5.25" text-anchor="end">0.4</text>
<text x="501" y="292.4" font-size="5.25" text-anchor="middle">0.5</text>
<text x="363.8" y="153.5" font-size="5.25" text-anchor="end">0.5</text>
<text x="527.6" y="292.4" font-size="5.25" text-anchor="middle">0.6</text>
<text x="363.8" y="127.1" font-size="5.25" text-anchor="end">0.6</text>
<text x="554.3" y="292.4" font-size="5.25" text-anchor="middle">0.7</text>
<text x="363.8" y="100.8" font-size="5.25" text-anchor="end">0.7</text>
<text x="580.9" y="292.4" font-size="5.25" text-anchor="middle">0.8</text>
<text x="363.8" y="74.4" font-size="5.25" text-anchor="end">0.8</text>
<text x="607.5" y="292.4" font-size="5.25" text-anchor="middle">0.9</text>
<text x="363.8" y="48" font-size="5.25" text-anchor="end">0.9</text>
<text x="634.1" y="292.4" font-size="5.25" text-anchor="middle">1.0</text>
<text x="363.8" y="21.6" font-size="5.25" text-anchor="end">1.0</text>
<text x="501" y="306.3" font-size="6.1" text-anchor="middle">Sensitivity</text>
<text x="350.9" y="151.3" font-size="6.1" text-anchor="middle" transform="rotate(-90 350.9 151.3)">Specificity</text>
<text x="413.4" y="6.4" font-size="7.3" textLength="209.2" lengthAdjust="spacing">Reduction in diagnostic delay across SC accuracy levels</text>
<defs><linearGradient id="g2" gradientUnits="userSpaceOnUse" x1="0" y1="146.8" x2="0" y2="41.9"><stop offset="0.0000" stop-color="#16089b"/><stop offset="0.0250" stop-color="#221ba5"/><stop offset="0.0500" stop-color="#2d2daf"/><stop offset="0.0750" stop-color="#3b45b8"/><stop offset="0.1000" stop-color="#485cc1"/><stop offset="0.1250" stop-color="#536ec8"/><stop offset="0.1400" stop-color="#5a78cc"/><stop offset="0.1500" stop-color="#5f7ece"/><stop offset="0.1750" stop-color="#6a8ed4"/><stop offset="0.1750" stop-color="#6a8ed4"/><stop offset="0.2000" stop-color="#7ca5dc"/><stop offset="0.2050" stop-color="#80aade"/><stop offset="0.2250" stop-color="#90bee3"/><stop offset="0.2350" stop-color="#98c8e6"/><stop offset="0.2500" stop-color="#9dd4ea"/><stop offset="0.2635" stop-color="#a2deee"/><stop offset="0.2750" stop-color="#99e5f2"/><stop offset="0.3000" stop-color="#87f5fc"/><stop offset="0.3000" stop-color="#87f5fc"/><stop offset="0.3250" stop-color="#82fcfe"/><stop offset="0.3350" stop-color="#80ffff"/><stop offset="0.3500" stop-color="#80ffff"/><stop offset="0.3750" stop-color="#80ffff"/><stop offset="0.4000" stop-color="#80ffff"/><stop offset="0.4250" stop-color="#80ffff"/><stop offset="0.4500" stop-color="#80ffff"/><stop offset="0.4650" stop-color="#80ffff"/><stop offset="0.4750" stop-color="#a1fef4"/><stop offset="0.5000" stop-color="#f2fada"/><stop offset="0.5150" stop-color="#e2face"/><stop offset="0.5250" stop-color="#d3fbc1"/><stop offset="0.5300" stop-color="#cbfbbb"/><stop offset="0.5450" stop-color="#b5fba8"/><stop offset="0.5500" stop-color="#affba4"/><stop offset="0.5600" stop-color="#a4fc9b"/><stop offset="0.5750" stop-color="#9cfb95"/><stop offset="0.5750" stop-color="#9cfb95"/><stop offset="0.5950" stop-color="#94f68c"/><stop offset="0.6000" stop-color="#91f488"/><stop offset="0.6200" stop-color="#86eb7a"/><stop offset="0.6250" stop-color="#84e978"/><stop offset="0.6500" stop-color="#7be06c"/><stop offset="0.6625" stop-color="#76dc66"/><stop offset="0.6750" stop-color="#72d863"/><stop offset="0.7000" stop-color="#6bcf5c"/><stop offset="0.7250" stop-color="#64c755"/><stop offset="0.7500" stop-color="#5dbe4e"/><stop offset="0.7750" stop-color="#56b648"/><stop offset="0.8000" stop-color="#4fad41"/><stop offset="0.8250" stop-color="#48a53a"/><stop offset="0.8250" stop-color="#48a53a"/><stop offset="0.8500" stop-color="#439d34"/><stop offset="0.8750" stop-color="#3d952d"/><stop offset="0.9000" stop-color="#388c27"/><stop offset="0.9100" stop-color="#368924"/><stop offset="0.9250" stop-color="#338521"/><stop offset="0.9500" stop-color="#2f7f1c"/><stop offset="0.9750" stop-color="#2a7817"/><stop offset="1.0000" stop-color="#267212"/></linearGradient></defs>
<rect x="643.8" y="41.7" width="13.4" height="105.1" fill="url(#g2)"/>
<path d="M643.8,119.2 H657.2M643.8,106.8 H657.2M643.8,94.3 H657.2M643.8,81.9 H657.2M643.8,69.5 H657.2" stroke="rgba(50,90,170,0.48)" stroke-width="0.45" fill="none"/>
<rect x="643.8" y="41.7" width="13.4" height="105.1" fill="none" stroke="#555" stroke-width="0.45"/>
<text x="659.3" y="145.9" font-size="5.25">−20</text>
<text x="659.3" y="121.1" font-size="5.25">−10</text>
<text x="659.3" y="96.2" font-size="5.25">0</text>
<text x="659.3" y="71.4" font-size="5.25">10</text>
<text x="659.3" y="46.6" font-size="5.25">20</text>
<path d="M657.4,144 h1.0M657.4,119.2 h1.0M657.4,94.3 h1.0M657.4,69.5 h1.0M657.4,44.7 h1.0" stroke="#444" stroke-width="0.5" fill="none"/>
<text x="643.5" y="29.7" font-size="6.1" textLength="38.3" lengthAdjust="spacing">Reduction in</text>
<text x="643.5" y="37.6" font-size="6.1" textLength="40.9" lengthAdjust="spacing">delay (years)</text>
</svg>
</body></html>
